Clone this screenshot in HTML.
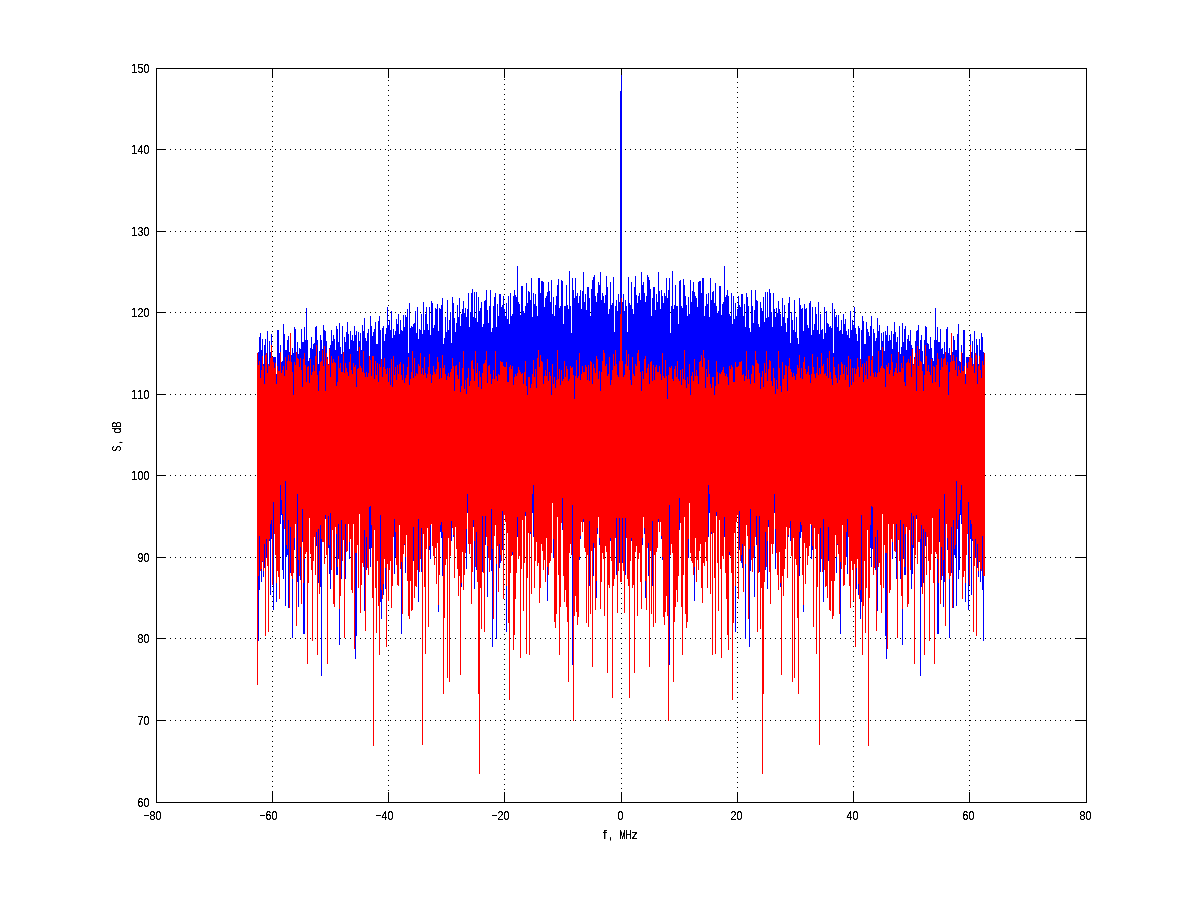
<!DOCTYPE html>
<html><head><meta charset="utf-8"><style>
html,body{margin:0;padding:0;background:#fff;width:1200px;height:901px;overflow:hidden}
svg{display:block}
text{font-family:"Liberation Sans",sans-serif;font-size:12.9px;fill:#000}
</style></head><body>
<svg width="1200" height="901" viewBox="0 0 1200 901" shape-rendering="crispEdges">
<defs><filter id="sh" x="0" y="0" width="1200" height="901" filterUnits="userSpaceOnUse"><feComponentTransfer><feFuncA type="linear" slope="3" intercept="-0.6"/></feComponentTransfer></filter></defs>
<rect width="1200" height="901" fill="#fff"/>
<path fill="#000" d="M272 71h1v1h-1zM272 76h1v1h-1zM272 81h1v1h-1zM272 86h1v1h-1zM272 91h1v1h-1zM272 96h1v1h-1zM272 101h1v1h-1zM272 106h1v1h-1zM272 111h1v1h-1zM272 116h1v1h-1zM272 121h1v1h-1zM272 126h1v1h-1zM272 131h1v1h-1zM272 136h1v1h-1zM272 141h1v1h-1zM272 146h1v1h-1zM272 151h1v1h-1zM272 156h1v1h-1zM272 161h1v1h-1zM272 166h1v1h-1zM272 171h1v1h-1zM272 176h1v1h-1zM272 181h1v1h-1zM272 186h1v1h-1zM272 191h1v1h-1zM272 196h1v1h-1zM272 201h1v1h-1zM272 206h1v1h-1zM272 211h1v1h-1zM272 216h1v1h-1zM272 221h1v1h-1zM272 226h1v1h-1zM272 231h1v1h-1zM272 236h1v1h-1zM272 241h1v1h-1zM272 246h1v1h-1zM272 251h1v1h-1zM272 256h1v1h-1zM272 261h1v1h-1zM272 266h1v1h-1zM272 271h1v1h-1zM272 276h1v1h-1zM272 281h1v1h-1zM272 286h1v1h-1zM272 291h1v1h-1zM272 296h1v1h-1zM272 301h1v1h-1zM272 306h1v1h-1zM272 311h1v1h-1zM272 316h1v1h-1zM272 321h1v1h-1zM272 326h1v1h-1zM272 331h1v1h-1zM272 336h1v1h-1zM272 341h1v1h-1zM272 346h1v1h-1zM272 351h1v1h-1zM272 356h1v1h-1zM272 361h1v1h-1zM272 366h1v1h-1zM272 371h1v1h-1zM272 376h1v1h-1zM272 381h1v1h-1zM272 386h1v1h-1zM272 391h1v1h-1zM272 396h1v1h-1zM272 401h1v1h-1zM272 406h1v1h-1zM272 411h1v1h-1zM272 416h1v1h-1zM272 421h1v1h-1zM272 426h1v1h-1zM272 431h1v1h-1zM272 436h1v1h-1zM272 441h1v1h-1zM272 446h1v1h-1zM272 451h1v1h-1zM272 456h1v1h-1zM272 461h1v1h-1zM272 466h1v1h-1zM272 471h1v1h-1zM272 476h1v1h-1zM272 481h1v1h-1zM272 486h1v1h-1zM272 491h1v1h-1zM272 496h1v1h-1zM272 501h1v1h-1zM272 506h1v1h-1zM272 511h1v1h-1zM272 516h1v1h-1zM272 521h1v1h-1zM272 526h1v1h-1zM272 531h1v1h-1zM272 536h1v1h-1zM272 541h1v1h-1zM272 546h1v1h-1zM272 551h1v1h-1zM272 556h1v1h-1zM272 561h1v1h-1zM272 566h1v1h-1zM272 571h1v1h-1zM272 576h1v1h-1zM272 581h1v1h-1zM272 586h1v1h-1zM272 591h1v1h-1zM272 596h1v1h-1zM272 601h1v1h-1zM272 606h1v1h-1zM272 611h1v1h-1zM272 616h1v1h-1zM272 621h1v1h-1zM272 626h1v1h-1zM272 631h1v1h-1zM272 636h1v1h-1zM272 641h1v1h-1zM272 646h1v1h-1zM272 651h1v1h-1zM272 656h1v1h-1zM272 661h1v1h-1zM272 666h1v1h-1zM272 671h1v1h-1zM272 676h1v1h-1zM272 681h1v1h-1zM272 686h1v1h-1zM272 691h1v1h-1zM272 696h1v1h-1zM272 701h1v1h-1zM272 706h1v1h-1zM272 711h1v1h-1zM272 716h1v1h-1zM272 721h1v1h-1zM272 726h1v1h-1zM272 731h1v1h-1zM272 736h1v1h-1zM272 741h1v1h-1zM272 746h1v1h-1zM272 751h1v1h-1zM272 756h1v1h-1zM272 761h1v1h-1zM272 766h1v1h-1zM272 771h1v1h-1zM272 776h1v1h-1zM272 781h1v1h-1zM272 786h1v1h-1zM272 791h1v1h-1zM272 796h1v1h-1zM272 801h1v1h-1zM388 70h1v1h-1zM388 75h1v1h-1zM388 80h1v1h-1zM388 85h1v1h-1zM388 90h1v1h-1zM388 95h1v1h-1zM388 100h1v1h-1zM388 105h1v1h-1zM388 110h1v1h-1zM388 115h1v1h-1zM388 120h1v1h-1zM388 125h1v1h-1zM388 130h1v1h-1zM388 135h1v1h-1zM388 140h1v1h-1zM388 145h1v1h-1zM388 150h1v1h-1zM388 155h1v1h-1zM388 160h1v1h-1zM388 165h1v1h-1zM388 170h1v1h-1zM388 175h1v1h-1zM388 180h1v1h-1zM388 185h1v1h-1zM388 190h1v1h-1zM388 195h1v1h-1zM388 200h1v1h-1zM388 205h1v1h-1zM388 210h1v1h-1zM388 215h1v1h-1zM388 220h1v1h-1zM388 225h1v1h-1zM388 230h1v1h-1zM388 235h1v1h-1zM388 240h1v1h-1zM388 245h1v1h-1zM388 250h1v1h-1zM388 255h1v1h-1zM388 260h1v1h-1zM388 265h1v1h-1zM388 270h1v1h-1zM388 275h1v1h-1zM388 280h1v1h-1zM388 285h1v1h-1zM388 290h1v1h-1zM388 295h1v1h-1zM388 300h1v1h-1zM388 305h1v1h-1zM388 310h1v1h-1zM388 315h1v1h-1zM388 320h1v1h-1zM388 325h1v1h-1zM388 330h1v1h-1zM388 335h1v1h-1zM388 340h1v1h-1zM388 345h1v1h-1zM388 350h1v1h-1zM388 355h1v1h-1zM388 360h1v1h-1zM388 365h1v1h-1zM388 370h1v1h-1zM388 375h1v1h-1zM388 380h1v1h-1zM388 385h1v1h-1zM388 390h1v1h-1zM388 395h1v1h-1zM388 400h1v1h-1zM388 405h1v1h-1zM388 410h1v1h-1zM388 415h1v1h-1zM388 420h1v1h-1zM388 425h1v1h-1zM388 430h1v1h-1zM388 435h1v1h-1zM388 440h1v1h-1zM388 445h1v1h-1zM388 450h1v1h-1zM388 455h1v1h-1zM388 460h1v1h-1zM388 465h1v1h-1zM388 470h1v1h-1zM388 475h1v1h-1zM388 480h1v1h-1zM388 485h1v1h-1zM388 490h1v1h-1zM388 495h1v1h-1zM388 500h1v1h-1zM388 505h1v1h-1zM388 510h1v1h-1zM388 515h1v1h-1zM388 520h1v1h-1zM388 525h1v1h-1zM388 530h1v1h-1zM388 535h1v1h-1zM388 540h1v1h-1zM388 545h1v1h-1zM388 550h1v1h-1zM388 555h1v1h-1zM388 560h1v1h-1zM388 565h1v1h-1zM388 570h1v1h-1zM388 575h1v1h-1zM388 580h1v1h-1zM388 585h1v1h-1zM388 590h1v1h-1zM388 595h1v1h-1zM388 600h1v1h-1zM388 605h1v1h-1zM388 610h1v1h-1zM388 615h1v1h-1zM388 620h1v1h-1zM388 625h1v1h-1zM388 630h1v1h-1zM388 635h1v1h-1zM388 640h1v1h-1zM388 645h1v1h-1zM388 650h1v1h-1zM388 655h1v1h-1zM388 660h1v1h-1zM388 665h1v1h-1zM388 670h1v1h-1zM388 675h1v1h-1zM388 680h1v1h-1zM388 685h1v1h-1zM388 690h1v1h-1zM388 695h1v1h-1zM388 700h1v1h-1zM388 705h1v1h-1zM388 710h1v1h-1zM388 715h1v1h-1zM388 720h1v1h-1zM388 725h1v1h-1zM388 730h1v1h-1zM388 735h1v1h-1zM388 740h1v1h-1zM388 745h1v1h-1zM388 750h1v1h-1zM388 755h1v1h-1zM388 760h1v1h-1zM388 765h1v1h-1zM388 770h1v1h-1zM388 775h1v1h-1zM388 780h1v1h-1zM388 785h1v1h-1zM388 790h1v1h-1zM388 795h1v1h-1zM388 800h1v1h-1zM504 69h1v1h-1zM504 74h1v1h-1zM504 79h1v1h-1zM504 84h1v1h-1zM504 89h1v1h-1zM504 94h1v1h-1zM504 99h1v1h-1zM504 104h1v1h-1zM504 109h1v1h-1zM504 114h1v1h-1zM504 119h1v1h-1zM504 124h1v1h-1zM504 129h1v1h-1zM504 134h1v1h-1zM504 139h1v1h-1zM504 144h1v1h-1zM504 149h1v1h-1zM504 154h1v1h-1zM504 159h1v1h-1zM504 164h1v1h-1zM504 169h1v1h-1zM504 174h1v1h-1zM504 179h1v1h-1zM504 184h1v1h-1zM504 189h1v1h-1zM504 194h1v1h-1zM504 199h1v1h-1zM504 204h1v1h-1zM504 209h1v1h-1zM504 214h1v1h-1zM504 219h1v1h-1zM504 224h1v1h-1zM504 229h1v1h-1zM504 234h1v1h-1zM504 239h1v1h-1zM504 244h1v1h-1zM504 249h1v1h-1zM504 254h1v1h-1zM504 259h1v1h-1zM504 264h1v1h-1zM504 269h1v1h-1zM504 274h1v1h-1zM504 279h1v1h-1zM504 284h1v1h-1zM504 289h1v1h-1zM504 294h1v1h-1zM504 299h1v1h-1zM504 304h1v1h-1zM504 309h1v1h-1zM504 314h1v1h-1zM504 319h1v1h-1zM504 324h1v1h-1zM504 329h1v1h-1zM504 334h1v1h-1zM504 339h1v1h-1zM504 344h1v1h-1zM504 349h1v1h-1zM504 354h1v1h-1zM504 359h1v1h-1zM504 364h1v1h-1zM504 369h1v1h-1zM504 374h1v1h-1zM504 379h1v1h-1zM504 384h1v1h-1zM504 389h1v1h-1zM504 394h1v1h-1zM504 399h1v1h-1zM504 404h1v1h-1zM504 409h1v1h-1zM504 414h1v1h-1zM504 419h1v1h-1zM504 424h1v1h-1zM504 429h1v1h-1zM504 434h1v1h-1zM504 439h1v1h-1zM504 444h1v1h-1zM504 449h1v1h-1zM504 454h1v1h-1zM504 459h1v1h-1zM504 464h1v1h-1zM504 469h1v1h-1zM504 474h1v1h-1zM504 479h1v1h-1zM504 484h1v1h-1zM504 489h1v1h-1zM504 494h1v1h-1zM504 499h1v1h-1zM504 504h1v1h-1zM504 509h1v1h-1zM504 514h1v1h-1zM504 519h1v1h-1zM504 524h1v1h-1zM504 529h1v1h-1zM504 534h1v1h-1zM504 539h1v1h-1zM504 544h1v1h-1zM504 549h1v1h-1zM504 554h1v1h-1zM504 559h1v1h-1zM504 564h1v1h-1zM504 569h1v1h-1zM504 574h1v1h-1zM504 579h1v1h-1zM504 584h1v1h-1zM504 589h1v1h-1zM504 594h1v1h-1zM504 599h1v1h-1zM504 604h1v1h-1zM504 609h1v1h-1zM504 614h1v1h-1zM504 619h1v1h-1zM504 624h1v1h-1zM504 629h1v1h-1zM504 634h1v1h-1zM504 639h1v1h-1zM504 644h1v1h-1zM504 649h1v1h-1zM504 654h1v1h-1zM504 659h1v1h-1zM504 664h1v1h-1zM504 669h1v1h-1zM504 674h1v1h-1zM504 679h1v1h-1zM504 684h1v1h-1zM504 689h1v1h-1zM504 694h1v1h-1zM504 699h1v1h-1zM504 704h1v1h-1zM504 709h1v1h-1zM504 714h1v1h-1zM504 719h1v1h-1zM504 724h1v1h-1zM504 729h1v1h-1zM504 734h1v1h-1zM504 739h1v1h-1zM504 744h1v1h-1zM504 749h1v1h-1zM504 754h1v1h-1zM504 759h1v1h-1zM504 764h1v1h-1zM504 769h1v1h-1zM504 774h1v1h-1zM504 779h1v1h-1zM504 784h1v1h-1zM504 789h1v1h-1zM504 794h1v1h-1zM504 799h1v1h-1zM621 73h1v1h-1zM621 78h1v1h-1zM621 83h1v1h-1zM621 88h1v1h-1zM621 93h1v1h-1zM621 98h1v1h-1zM621 103h1v1h-1zM621 108h1v1h-1zM621 113h1v1h-1zM621 118h1v1h-1zM621 123h1v1h-1zM621 128h1v1h-1zM621 133h1v1h-1zM621 138h1v1h-1zM621 143h1v1h-1zM621 148h1v1h-1zM621 153h1v1h-1zM621 158h1v1h-1zM621 163h1v1h-1zM621 168h1v1h-1zM621 173h1v1h-1zM621 178h1v1h-1zM621 183h1v1h-1zM621 188h1v1h-1zM621 193h1v1h-1zM621 198h1v1h-1zM621 203h1v1h-1zM621 208h1v1h-1zM621 213h1v1h-1zM621 218h1v1h-1zM621 223h1v1h-1zM621 228h1v1h-1zM621 233h1v1h-1zM621 238h1v1h-1zM621 243h1v1h-1zM621 248h1v1h-1zM621 253h1v1h-1zM621 258h1v1h-1zM621 263h1v1h-1zM621 268h1v1h-1zM621 273h1v1h-1zM621 278h1v1h-1zM621 283h1v1h-1zM621 288h1v1h-1zM621 293h1v1h-1zM621 298h1v1h-1zM621 303h1v1h-1zM621 308h1v1h-1zM621 313h1v1h-1zM621 318h1v1h-1zM621 323h1v1h-1zM621 328h1v1h-1zM621 333h1v1h-1zM621 338h1v1h-1zM621 343h1v1h-1zM621 348h1v1h-1zM621 353h1v1h-1zM621 358h1v1h-1zM621 363h1v1h-1zM621 368h1v1h-1zM621 373h1v1h-1zM621 378h1v1h-1zM621 383h1v1h-1zM621 388h1v1h-1zM621 393h1v1h-1zM621 398h1v1h-1zM621 403h1v1h-1zM621 408h1v1h-1zM621 413h1v1h-1zM621 418h1v1h-1zM621 423h1v1h-1zM621 428h1v1h-1zM621 433h1v1h-1zM621 438h1v1h-1zM621 443h1v1h-1zM621 448h1v1h-1zM621 453h1v1h-1zM621 458h1v1h-1zM621 463h1v1h-1zM621 468h1v1h-1zM621 473h1v1h-1zM621 478h1v1h-1zM621 483h1v1h-1zM621 488h1v1h-1zM621 493h1v1h-1zM621 498h1v1h-1zM621 503h1v1h-1zM621 508h1v1h-1zM621 513h1v1h-1zM621 518h1v1h-1zM621 523h1v1h-1zM621 528h1v1h-1zM621 533h1v1h-1zM621 538h1v1h-1zM621 543h1v1h-1zM621 548h1v1h-1zM621 553h1v1h-1zM621 558h1v1h-1zM621 563h1v1h-1zM621 568h1v1h-1zM621 573h1v1h-1zM621 578h1v1h-1zM621 583h1v1h-1zM621 588h1v1h-1zM621 593h1v1h-1zM621 598h1v1h-1zM621 603h1v1h-1zM621 608h1v1h-1zM621 613h1v1h-1zM621 618h1v1h-1zM621 623h1v1h-1zM621 628h1v1h-1zM621 633h1v1h-1zM621 638h1v1h-1zM621 643h1v1h-1zM621 648h1v1h-1zM621 653h1v1h-1zM621 658h1v1h-1zM621 663h1v1h-1zM621 668h1v1h-1zM621 673h1v1h-1zM621 678h1v1h-1zM621 683h1v1h-1zM621 688h1v1h-1zM621 693h1v1h-1zM621 698h1v1h-1zM621 703h1v1h-1zM621 708h1v1h-1zM621 713h1v1h-1zM621 718h1v1h-1zM621 723h1v1h-1zM621 728h1v1h-1zM621 733h1v1h-1zM621 738h1v1h-1zM621 743h1v1h-1zM621 748h1v1h-1zM621 753h1v1h-1zM621 758h1v1h-1zM621 763h1v1h-1zM621 768h1v1h-1zM621 773h1v1h-1zM621 778h1v1h-1zM621 783h1v1h-1zM621 788h1v1h-1zM621 793h1v1h-1zM621 798h1v1h-1zM737 72h1v1h-1zM737 77h1v1h-1zM737 82h1v1h-1zM737 87h1v1h-1zM737 92h1v1h-1zM737 97h1v1h-1zM737 102h1v1h-1zM737 107h1v1h-1zM737 112h1v1h-1zM737 117h1v1h-1zM737 122h1v1h-1zM737 127h1v1h-1zM737 132h1v1h-1zM737 137h1v1h-1zM737 142h1v1h-1zM737 147h1v1h-1zM737 152h1v1h-1zM737 157h1v1h-1zM737 162h1v1h-1zM737 167h1v1h-1zM737 172h1v1h-1zM737 177h1v1h-1zM737 182h1v1h-1zM737 187h1v1h-1zM737 192h1v1h-1zM737 197h1v1h-1zM737 202h1v1h-1zM737 207h1v1h-1zM737 212h1v1h-1zM737 217h1v1h-1zM737 222h1v1h-1zM737 227h1v1h-1zM737 232h1v1h-1zM737 237h1v1h-1zM737 242h1v1h-1zM737 247h1v1h-1zM737 252h1v1h-1zM737 257h1v1h-1zM737 262h1v1h-1zM737 267h1v1h-1zM737 272h1v1h-1zM737 277h1v1h-1zM737 282h1v1h-1zM737 287h1v1h-1zM737 292h1v1h-1zM737 297h1v1h-1zM737 302h1v1h-1zM737 307h1v1h-1zM737 312h1v1h-1zM737 317h1v1h-1zM737 322h1v1h-1zM737 327h1v1h-1zM737 332h1v1h-1zM737 337h1v1h-1zM737 342h1v1h-1zM737 347h1v1h-1zM737 352h1v1h-1zM737 357h1v1h-1zM737 362h1v1h-1zM737 367h1v1h-1zM737 372h1v1h-1zM737 377h1v1h-1zM737 382h1v1h-1zM737 387h1v1h-1zM737 392h1v1h-1zM737 397h1v1h-1zM737 402h1v1h-1zM737 407h1v1h-1zM737 412h1v1h-1zM737 417h1v1h-1zM737 422h1v1h-1zM737 427h1v1h-1zM737 432h1v1h-1zM737 437h1v1h-1zM737 442h1v1h-1zM737 447h1v1h-1zM737 452h1v1h-1zM737 457h1v1h-1zM737 462h1v1h-1zM737 467h1v1h-1zM737 472h1v1h-1zM737 477h1v1h-1zM737 482h1v1h-1zM737 487h1v1h-1zM737 492h1v1h-1zM737 497h1v1h-1zM737 502h1v1h-1zM737 507h1v1h-1zM737 512h1v1h-1zM737 517h1v1h-1zM737 522h1v1h-1zM737 527h1v1h-1zM737 532h1v1h-1zM737 537h1v1h-1zM737 542h1v1h-1zM737 547h1v1h-1zM737 552h1v1h-1zM737 557h1v1h-1zM737 562h1v1h-1zM737 567h1v1h-1zM737 572h1v1h-1zM737 577h1v1h-1zM737 582h1v1h-1zM737 587h1v1h-1zM737 592h1v1h-1zM737 597h1v1h-1zM737 602h1v1h-1zM737 607h1v1h-1zM737 612h1v1h-1zM737 617h1v1h-1zM737 622h1v1h-1zM737 627h1v1h-1zM737 632h1v1h-1zM737 637h1v1h-1zM737 642h1v1h-1zM737 647h1v1h-1zM737 652h1v1h-1zM737 657h1v1h-1zM737 662h1v1h-1zM737 667h1v1h-1zM737 672h1v1h-1zM737 677h1v1h-1zM737 682h1v1h-1zM737 687h1v1h-1zM737 692h1v1h-1zM737 697h1v1h-1zM737 702h1v1h-1zM737 707h1v1h-1zM737 712h1v1h-1zM737 717h1v1h-1zM737 722h1v1h-1zM737 727h1v1h-1zM737 732h1v1h-1zM737 737h1v1h-1zM737 742h1v1h-1zM737 747h1v1h-1zM737 752h1v1h-1zM737 757h1v1h-1zM737 762h1v1h-1zM737 767h1v1h-1zM737 772h1v1h-1zM737 777h1v1h-1zM737 782h1v1h-1zM737 787h1v1h-1zM737 792h1v1h-1zM737 797h1v1h-1zM853 71h1v1h-1zM853 76h1v1h-1zM853 81h1v1h-1zM853 86h1v1h-1zM853 91h1v1h-1zM853 96h1v1h-1zM853 101h1v1h-1zM853 106h1v1h-1zM853 111h1v1h-1zM853 116h1v1h-1zM853 121h1v1h-1zM853 126h1v1h-1zM853 131h1v1h-1zM853 136h1v1h-1zM853 141h1v1h-1zM853 146h1v1h-1zM853 151h1v1h-1zM853 156h1v1h-1zM853 161h1v1h-1zM853 166h1v1h-1zM853 171h1v1h-1zM853 176h1v1h-1zM853 181h1v1h-1zM853 186h1v1h-1zM853 191h1v1h-1zM853 196h1v1h-1zM853 201h1v1h-1zM853 206h1v1h-1zM853 211h1v1h-1zM853 216h1v1h-1zM853 221h1v1h-1zM853 226h1v1h-1zM853 231h1v1h-1zM853 236h1v1h-1zM853 241h1v1h-1zM853 246h1v1h-1zM853 251h1v1h-1zM853 256h1v1h-1zM853 261h1v1h-1zM853 266h1v1h-1zM853 271h1v1h-1zM853 276h1v1h-1zM853 281h1v1h-1zM853 286h1v1h-1zM853 291h1v1h-1zM853 296h1v1h-1zM853 301h1v1h-1zM853 306h1v1h-1zM853 311h1v1h-1zM853 316h1v1h-1zM853 321h1v1h-1zM853 326h1v1h-1zM853 331h1v1h-1zM853 336h1v1h-1zM853 341h1v1h-1zM853 346h1v1h-1zM853 351h1v1h-1zM853 356h1v1h-1zM853 361h1v1h-1zM853 366h1v1h-1zM853 371h1v1h-1zM853 376h1v1h-1zM853 381h1v1h-1zM853 386h1v1h-1zM853 391h1v1h-1zM853 396h1v1h-1zM853 401h1v1h-1zM853 406h1v1h-1zM853 411h1v1h-1zM853 416h1v1h-1zM853 421h1v1h-1zM853 426h1v1h-1zM853 431h1v1h-1zM853 436h1v1h-1zM853 441h1v1h-1zM853 446h1v1h-1zM853 451h1v1h-1zM853 456h1v1h-1zM853 461h1v1h-1zM853 466h1v1h-1zM853 471h1v1h-1zM853 476h1v1h-1zM853 481h1v1h-1zM853 486h1v1h-1zM853 491h1v1h-1zM853 496h1v1h-1zM853 501h1v1h-1zM853 506h1v1h-1zM853 511h1v1h-1zM853 516h1v1h-1zM853 521h1v1h-1zM853 526h1v1h-1zM853 531h1v1h-1zM853 536h1v1h-1zM853 541h1v1h-1zM853 546h1v1h-1zM853 551h1v1h-1zM853 556h1v1h-1zM853 561h1v1h-1zM853 566h1v1h-1zM853 571h1v1h-1zM853 576h1v1h-1zM853 581h1v1h-1zM853 586h1v1h-1zM853 591h1v1h-1zM853 596h1v1h-1zM853 601h1v1h-1zM853 606h1v1h-1zM853 611h1v1h-1zM853 616h1v1h-1zM853 621h1v1h-1zM853 626h1v1h-1zM853 631h1v1h-1zM853 636h1v1h-1zM853 641h1v1h-1zM853 646h1v1h-1zM853 651h1v1h-1zM853 656h1v1h-1zM853 661h1v1h-1zM853 666h1v1h-1zM853 671h1v1h-1zM853 676h1v1h-1zM853 681h1v1h-1zM853 686h1v1h-1zM853 691h1v1h-1zM853 696h1v1h-1zM853 701h1v1h-1zM853 706h1v1h-1zM853 711h1v1h-1zM853 716h1v1h-1zM853 721h1v1h-1zM853 726h1v1h-1zM853 731h1v1h-1zM853 736h1v1h-1zM853 741h1v1h-1zM853 746h1v1h-1zM853 751h1v1h-1zM853 756h1v1h-1zM853 761h1v1h-1zM853 766h1v1h-1zM853 771h1v1h-1zM853 776h1v1h-1zM853 781h1v1h-1zM853 786h1v1h-1zM853 791h1v1h-1zM853 796h1v1h-1zM853 801h1v1h-1zM969 70h1v1h-1zM969 75h1v1h-1zM969 80h1v1h-1zM969 85h1v1h-1zM969 90h1v1h-1zM969 95h1v1h-1zM969 100h1v1h-1zM969 105h1v1h-1zM969 110h1v1h-1zM969 115h1v1h-1zM969 120h1v1h-1zM969 125h1v1h-1zM969 130h1v1h-1zM969 135h1v1h-1zM969 140h1v1h-1zM969 145h1v1h-1zM969 150h1v1h-1zM969 155h1v1h-1zM969 160h1v1h-1zM969 165h1v1h-1zM969 170h1v1h-1zM969 175h1v1h-1zM969 180h1v1h-1zM969 185h1v1h-1zM969 190h1v1h-1zM969 195h1v1h-1zM969 200h1v1h-1zM969 205h1v1h-1zM969 210h1v1h-1zM969 215h1v1h-1zM969 220h1v1h-1zM969 225h1v1h-1zM969 230h1v1h-1zM969 235h1v1h-1zM969 240h1v1h-1zM969 245h1v1h-1zM969 250h1v1h-1zM969 255h1v1h-1zM969 260h1v1h-1zM969 265h1v1h-1zM969 270h1v1h-1zM969 275h1v1h-1zM969 280h1v1h-1zM969 285h1v1h-1zM969 290h1v1h-1zM969 295h1v1h-1zM969 300h1v1h-1zM969 305h1v1h-1zM969 310h1v1h-1zM969 315h1v1h-1zM969 320h1v1h-1zM969 325h1v1h-1zM969 330h1v1h-1zM969 335h1v1h-1zM969 340h1v1h-1zM969 345h1v1h-1zM969 350h1v1h-1zM969 355h1v1h-1zM969 360h1v1h-1zM969 365h1v1h-1zM969 370h1v1h-1zM969 375h1v1h-1zM969 380h1v1h-1zM969 385h1v1h-1zM969 390h1v1h-1zM969 395h1v1h-1zM969 400h1v1h-1zM969 405h1v1h-1zM969 410h1v1h-1zM969 415h1v1h-1zM969 420h1v1h-1zM969 425h1v1h-1zM969 430h1v1h-1zM969 435h1v1h-1zM969 440h1v1h-1zM969 445h1v1h-1zM969 450h1v1h-1zM969 455h1v1h-1zM969 460h1v1h-1zM969 465h1v1h-1zM969 470h1v1h-1zM969 475h1v1h-1zM969 480h1v1h-1zM969 485h1v1h-1zM969 490h1v1h-1zM969 495h1v1h-1zM969 500h1v1h-1zM969 505h1v1h-1zM969 510h1v1h-1zM969 515h1v1h-1zM969 520h1v1h-1zM969 525h1v1h-1zM969 530h1v1h-1zM969 535h1v1h-1zM969 540h1v1h-1zM969 545h1v1h-1zM969 550h1v1h-1zM969 555h1v1h-1zM969 560h1v1h-1zM969 565h1v1h-1zM969 570h1v1h-1zM969 575h1v1h-1zM969 580h1v1h-1zM969 585h1v1h-1zM969 590h1v1h-1zM969 595h1v1h-1zM969 600h1v1h-1zM969 605h1v1h-1zM969 610h1v1h-1zM969 615h1v1h-1zM969 620h1v1h-1zM969 625h1v1h-1zM969 630h1v1h-1zM969 635h1v1h-1zM969 640h1v1h-1zM969 645h1v1h-1zM969 650h1v1h-1zM969 655h1v1h-1zM969 660h1v1h-1zM969 665h1v1h-1zM969 670h1v1h-1zM969 675h1v1h-1zM969 680h1v1h-1zM969 685h1v1h-1zM969 690h1v1h-1zM969 695h1v1h-1zM969 700h1v1h-1zM969 705h1v1h-1zM969 710h1v1h-1zM969 715h1v1h-1zM969 720h1v1h-1zM969 725h1v1h-1zM969 730h1v1h-1zM969 735h1v1h-1zM969 740h1v1h-1zM969 745h1v1h-1zM969 750h1v1h-1zM969 755h1v1h-1zM969 760h1v1h-1zM969 765h1v1h-1zM969 770h1v1h-1zM969 775h1v1h-1zM969 780h1v1h-1zM969 785h1v1h-1zM969 790h1v1h-1zM969 795h1v1h-1zM969 800h1v1h-1zM160 720h1v1h-1zM165 720h1v1h-1zM170 720h1v1h-1zM175 720h1v1h-1zM180 720h1v1h-1zM185 720h1v1h-1zM190 720h1v1h-1zM195 720h1v1h-1zM200 720h1v1h-1zM205 720h1v1h-1zM210 720h1v1h-1zM215 720h1v1h-1zM220 720h1v1h-1zM225 720h1v1h-1zM230 720h1v1h-1zM235 720h1v1h-1zM240 720h1v1h-1zM245 720h1v1h-1zM250 720h1v1h-1zM255 720h1v1h-1zM260 720h1v1h-1zM265 720h1v1h-1zM270 720h1v1h-1zM275 720h1v1h-1zM280 720h1v1h-1zM285 720h1v1h-1zM290 720h1v1h-1zM295 720h1v1h-1zM300 720h1v1h-1zM305 720h1v1h-1zM310 720h1v1h-1zM315 720h1v1h-1zM320 720h1v1h-1zM325 720h1v1h-1zM330 720h1v1h-1zM335 720h1v1h-1zM340 720h1v1h-1zM345 720h1v1h-1zM350 720h1v1h-1zM355 720h1v1h-1zM360 720h1v1h-1zM365 720h1v1h-1zM370 720h1v1h-1zM375 720h1v1h-1zM380 720h1v1h-1zM385 720h1v1h-1zM390 720h1v1h-1zM395 720h1v1h-1zM400 720h1v1h-1zM405 720h1v1h-1zM410 720h1v1h-1zM415 720h1v1h-1zM420 720h1v1h-1zM425 720h1v1h-1zM430 720h1v1h-1zM435 720h1v1h-1zM440 720h1v1h-1zM445 720h1v1h-1zM450 720h1v1h-1zM455 720h1v1h-1zM460 720h1v1h-1zM465 720h1v1h-1zM470 720h1v1h-1zM475 720h1v1h-1zM480 720h1v1h-1zM485 720h1v1h-1zM490 720h1v1h-1zM495 720h1v1h-1zM500 720h1v1h-1zM505 720h1v1h-1zM510 720h1v1h-1zM515 720h1v1h-1zM520 720h1v1h-1zM525 720h1v1h-1zM530 720h1v1h-1zM535 720h1v1h-1zM540 720h1v1h-1zM545 720h1v1h-1zM550 720h1v1h-1zM555 720h1v1h-1zM560 720h1v1h-1zM565 720h1v1h-1zM570 720h1v1h-1zM575 720h1v1h-1zM580 720h1v1h-1zM585 720h1v1h-1zM590 720h1v1h-1zM595 720h1v1h-1zM600 720h1v1h-1zM605 720h1v1h-1zM610 720h1v1h-1zM615 720h1v1h-1zM620 720h1v1h-1zM625 720h1v1h-1zM630 720h1v1h-1zM635 720h1v1h-1zM640 720h1v1h-1zM645 720h1v1h-1zM650 720h1v1h-1zM655 720h1v1h-1zM660 720h1v1h-1zM665 720h1v1h-1zM670 720h1v1h-1zM675 720h1v1h-1zM680 720h1v1h-1zM685 720h1v1h-1zM690 720h1v1h-1zM695 720h1v1h-1zM700 720h1v1h-1zM705 720h1v1h-1zM710 720h1v1h-1zM715 720h1v1h-1zM720 720h1v1h-1zM725 720h1v1h-1zM730 720h1v1h-1zM735 720h1v1h-1zM740 720h1v1h-1zM745 720h1v1h-1zM750 720h1v1h-1zM755 720h1v1h-1zM760 720h1v1h-1zM765 720h1v1h-1zM770 720h1v1h-1zM775 720h1v1h-1zM780 720h1v1h-1zM785 720h1v1h-1zM790 720h1v1h-1zM795 720h1v1h-1zM800 720h1v1h-1zM805 720h1v1h-1zM810 720h1v1h-1zM815 720h1v1h-1zM820 720h1v1h-1zM825 720h1v1h-1zM830 720h1v1h-1zM835 720h1v1h-1zM840 720h1v1h-1zM845 720h1v1h-1zM850 720h1v1h-1zM855 720h1v1h-1zM860 720h1v1h-1zM865 720h1v1h-1zM870 720h1v1h-1zM875 720h1v1h-1zM880 720h1v1h-1zM885 720h1v1h-1zM890 720h1v1h-1zM895 720h1v1h-1zM900 720h1v1h-1zM905 720h1v1h-1zM910 720h1v1h-1zM915 720h1v1h-1zM920 720h1v1h-1zM925 720h1v1h-1zM930 720h1v1h-1zM935 720h1v1h-1zM940 720h1v1h-1zM945 720h1v1h-1zM950 720h1v1h-1zM955 720h1v1h-1zM960 720h1v1h-1zM965 720h1v1h-1zM970 720h1v1h-1zM975 720h1v1h-1zM980 720h1v1h-1zM985 720h1v1h-1zM990 720h1v1h-1zM995 720h1v1h-1zM1000 720h1v1h-1zM1005 720h1v1h-1zM1010 720h1v1h-1zM1015 720h1v1h-1zM1020 720h1v1h-1zM1025 720h1v1h-1zM1030 720h1v1h-1zM1035 720h1v1h-1zM1040 720h1v1h-1zM1045 720h1v1h-1zM1050 720h1v1h-1zM1055 720h1v1h-1zM1060 720h1v1h-1zM1065 720h1v1h-1zM1070 720h1v1h-1zM1075 720h1v1h-1zM1080 720h1v1h-1zM1085 720h1v1h-1zM160 638h1v1h-1zM165 638h1v1h-1zM170 638h1v1h-1zM175 638h1v1h-1zM180 638h1v1h-1zM185 638h1v1h-1zM190 638h1v1h-1zM195 638h1v1h-1zM200 638h1v1h-1zM205 638h1v1h-1zM210 638h1v1h-1zM215 638h1v1h-1zM220 638h1v1h-1zM225 638h1v1h-1zM230 638h1v1h-1zM235 638h1v1h-1zM240 638h1v1h-1zM245 638h1v1h-1zM250 638h1v1h-1zM255 638h1v1h-1zM260 638h1v1h-1zM265 638h1v1h-1zM270 638h1v1h-1zM275 638h1v1h-1zM280 638h1v1h-1zM285 638h1v1h-1zM290 638h1v1h-1zM295 638h1v1h-1zM300 638h1v1h-1zM305 638h1v1h-1zM310 638h1v1h-1zM315 638h1v1h-1zM320 638h1v1h-1zM325 638h1v1h-1zM330 638h1v1h-1zM335 638h1v1h-1zM340 638h1v1h-1zM345 638h1v1h-1zM350 638h1v1h-1zM355 638h1v1h-1zM360 638h1v1h-1zM365 638h1v1h-1zM370 638h1v1h-1zM375 638h1v1h-1zM380 638h1v1h-1zM385 638h1v1h-1zM390 638h1v1h-1zM395 638h1v1h-1zM400 638h1v1h-1zM405 638h1v1h-1zM410 638h1v1h-1zM415 638h1v1h-1zM420 638h1v1h-1zM425 638h1v1h-1zM430 638h1v1h-1zM435 638h1v1h-1zM440 638h1v1h-1zM445 638h1v1h-1zM450 638h1v1h-1zM455 638h1v1h-1zM460 638h1v1h-1zM465 638h1v1h-1zM470 638h1v1h-1zM475 638h1v1h-1zM480 638h1v1h-1zM485 638h1v1h-1zM490 638h1v1h-1zM495 638h1v1h-1zM500 638h1v1h-1zM505 638h1v1h-1zM510 638h1v1h-1zM515 638h1v1h-1zM520 638h1v1h-1zM525 638h1v1h-1zM530 638h1v1h-1zM535 638h1v1h-1zM540 638h1v1h-1zM545 638h1v1h-1zM550 638h1v1h-1zM555 638h1v1h-1zM560 638h1v1h-1zM565 638h1v1h-1zM570 638h1v1h-1zM575 638h1v1h-1zM580 638h1v1h-1zM585 638h1v1h-1zM590 638h1v1h-1zM595 638h1v1h-1zM600 638h1v1h-1zM605 638h1v1h-1zM610 638h1v1h-1zM615 638h1v1h-1zM620 638h1v1h-1zM625 638h1v1h-1zM630 638h1v1h-1zM635 638h1v1h-1zM640 638h1v1h-1zM645 638h1v1h-1zM650 638h1v1h-1zM655 638h1v1h-1zM660 638h1v1h-1zM665 638h1v1h-1zM670 638h1v1h-1zM675 638h1v1h-1zM680 638h1v1h-1zM685 638h1v1h-1zM690 638h1v1h-1zM695 638h1v1h-1zM700 638h1v1h-1zM705 638h1v1h-1zM710 638h1v1h-1zM715 638h1v1h-1zM720 638h1v1h-1zM725 638h1v1h-1zM730 638h1v1h-1zM735 638h1v1h-1zM740 638h1v1h-1zM745 638h1v1h-1zM750 638h1v1h-1zM755 638h1v1h-1zM760 638h1v1h-1zM765 638h1v1h-1zM770 638h1v1h-1zM775 638h1v1h-1zM780 638h1v1h-1zM785 638h1v1h-1zM790 638h1v1h-1zM795 638h1v1h-1zM800 638h1v1h-1zM805 638h1v1h-1zM810 638h1v1h-1zM815 638h1v1h-1zM820 638h1v1h-1zM825 638h1v1h-1zM830 638h1v1h-1zM835 638h1v1h-1zM840 638h1v1h-1zM845 638h1v1h-1zM850 638h1v1h-1zM855 638h1v1h-1zM860 638h1v1h-1zM865 638h1v1h-1zM870 638h1v1h-1zM875 638h1v1h-1zM880 638h1v1h-1zM885 638h1v1h-1zM890 638h1v1h-1zM895 638h1v1h-1zM900 638h1v1h-1zM905 638h1v1h-1zM910 638h1v1h-1zM915 638h1v1h-1zM920 638h1v1h-1zM925 638h1v1h-1zM930 638h1v1h-1zM935 638h1v1h-1zM940 638h1v1h-1zM945 638h1v1h-1zM950 638h1v1h-1zM955 638h1v1h-1zM960 638h1v1h-1zM965 638h1v1h-1zM970 638h1v1h-1zM975 638h1v1h-1zM980 638h1v1h-1zM985 638h1v1h-1zM990 638h1v1h-1zM995 638h1v1h-1zM1000 638h1v1h-1zM1005 638h1v1h-1zM1010 638h1v1h-1zM1015 638h1v1h-1zM1020 638h1v1h-1zM1025 638h1v1h-1zM1030 638h1v1h-1zM1035 638h1v1h-1zM1040 638h1v1h-1zM1045 638h1v1h-1zM1050 638h1v1h-1zM1055 638h1v1h-1zM1060 638h1v1h-1zM1065 638h1v1h-1zM1070 638h1v1h-1zM1075 638h1v1h-1zM1080 638h1v1h-1zM1085 638h1v1h-1zM160 557h1v1h-1zM165 557h1v1h-1zM170 557h1v1h-1zM175 557h1v1h-1zM180 557h1v1h-1zM185 557h1v1h-1zM190 557h1v1h-1zM195 557h1v1h-1zM200 557h1v1h-1zM205 557h1v1h-1zM210 557h1v1h-1zM215 557h1v1h-1zM220 557h1v1h-1zM225 557h1v1h-1zM230 557h1v1h-1zM235 557h1v1h-1zM240 557h1v1h-1zM245 557h1v1h-1zM250 557h1v1h-1zM255 557h1v1h-1zM260 557h1v1h-1zM265 557h1v1h-1zM270 557h1v1h-1zM275 557h1v1h-1zM280 557h1v1h-1zM285 557h1v1h-1zM290 557h1v1h-1zM295 557h1v1h-1zM300 557h1v1h-1zM305 557h1v1h-1zM310 557h1v1h-1zM315 557h1v1h-1zM320 557h1v1h-1zM325 557h1v1h-1zM330 557h1v1h-1zM335 557h1v1h-1zM340 557h1v1h-1zM345 557h1v1h-1zM350 557h1v1h-1zM355 557h1v1h-1zM360 557h1v1h-1zM365 557h1v1h-1zM370 557h1v1h-1zM375 557h1v1h-1zM380 557h1v1h-1zM385 557h1v1h-1zM390 557h1v1h-1zM395 557h1v1h-1zM400 557h1v1h-1zM405 557h1v1h-1zM410 557h1v1h-1zM415 557h1v1h-1zM420 557h1v1h-1zM425 557h1v1h-1zM430 557h1v1h-1zM435 557h1v1h-1zM440 557h1v1h-1zM445 557h1v1h-1zM450 557h1v1h-1zM455 557h1v1h-1zM460 557h1v1h-1zM465 557h1v1h-1zM470 557h1v1h-1zM475 557h1v1h-1zM480 557h1v1h-1zM485 557h1v1h-1zM490 557h1v1h-1zM495 557h1v1h-1zM500 557h1v1h-1zM505 557h1v1h-1zM510 557h1v1h-1zM515 557h1v1h-1zM520 557h1v1h-1zM525 557h1v1h-1zM530 557h1v1h-1zM535 557h1v1h-1zM540 557h1v1h-1zM545 557h1v1h-1zM550 557h1v1h-1zM555 557h1v1h-1zM560 557h1v1h-1zM565 557h1v1h-1zM570 557h1v1h-1zM575 557h1v1h-1zM580 557h1v1h-1zM585 557h1v1h-1zM590 557h1v1h-1zM595 557h1v1h-1zM600 557h1v1h-1zM605 557h1v1h-1zM610 557h1v1h-1zM615 557h1v1h-1zM620 557h1v1h-1zM625 557h1v1h-1zM630 557h1v1h-1zM635 557h1v1h-1zM640 557h1v1h-1zM645 557h1v1h-1zM650 557h1v1h-1zM655 557h1v1h-1zM660 557h1v1h-1zM665 557h1v1h-1zM670 557h1v1h-1zM675 557h1v1h-1zM680 557h1v1h-1zM685 557h1v1h-1zM690 557h1v1h-1zM695 557h1v1h-1zM700 557h1v1h-1zM705 557h1v1h-1zM710 557h1v1h-1zM715 557h1v1h-1zM720 557h1v1h-1zM725 557h1v1h-1zM730 557h1v1h-1zM735 557h1v1h-1zM740 557h1v1h-1zM745 557h1v1h-1zM750 557h1v1h-1zM755 557h1v1h-1zM760 557h1v1h-1zM765 557h1v1h-1zM770 557h1v1h-1zM775 557h1v1h-1zM780 557h1v1h-1zM785 557h1v1h-1zM790 557h1v1h-1zM795 557h1v1h-1zM800 557h1v1h-1zM805 557h1v1h-1zM810 557h1v1h-1zM815 557h1v1h-1zM820 557h1v1h-1zM825 557h1v1h-1zM830 557h1v1h-1zM835 557h1v1h-1zM840 557h1v1h-1zM845 557h1v1h-1zM850 557h1v1h-1zM855 557h1v1h-1zM860 557h1v1h-1zM865 557h1v1h-1zM870 557h1v1h-1zM875 557h1v1h-1zM880 557h1v1h-1zM885 557h1v1h-1zM890 557h1v1h-1zM895 557h1v1h-1zM900 557h1v1h-1zM905 557h1v1h-1zM910 557h1v1h-1zM915 557h1v1h-1zM920 557h1v1h-1zM925 557h1v1h-1zM930 557h1v1h-1zM935 557h1v1h-1zM940 557h1v1h-1zM945 557h1v1h-1zM950 557h1v1h-1zM955 557h1v1h-1zM960 557h1v1h-1zM965 557h1v1h-1zM970 557h1v1h-1zM975 557h1v1h-1zM980 557h1v1h-1zM985 557h1v1h-1zM990 557h1v1h-1zM995 557h1v1h-1zM1000 557h1v1h-1zM1005 557h1v1h-1zM1010 557h1v1h-1zM1015 557h1v1h-1zM1020 557h1v1h-1zM1025 557h1v1h-1zM1030 557h1v1h-1zM1035 557h1v1h-1zM1040 557h1v1h-1zM1045 557h1v1h-1zM1050 557h1v1h-1zM1055 557h1v1h-1zM1060 557h1v1h-1zM1065 557h1v1h-1zM1070 557h1v1h-1zM1075 557h1v1h-1zM1080 557h1v1h-1zM1085 557h1v1h-1zM160 475h1v1h-1zM165 475h1v1h-1zM170 475h1v1h-1zM175 475h1v1h-1zM180 475h1v1h-1zM185 475h1v1h-1zM190 475h1v1h-1zM195 475h1v1h-1zM200 475h1v1h-1zM205 475h1v1h-1zM210 475h1v1h-1zM215 475h1v1h-1zM220 475h1v1h-1zM225 475h1v1h-1zM230 475h1v1h-1zM235 475h1v1h-1zM240 475h1v1h-1zM245 475h1v1h-1zM250 475h1v1h-1zM255 475h1v1h-1zM260 475h1v1h-1zM265 475h1v1h-1zM270 475h1v1h-1zM275 475h1v1h-1zM280 475h1v1h-1zM285 475h1v1h-1zM290 475h1v1h-1zM295 475h1v1h-1zM300 475h1v1h-1zM305 475h1v1h-1zM310 475h1v1h-1zM315 475h1v1h-1zM320 475h1v1h-1zM325 475h1v1h-1zM330 475h1v1h-1zM335 475h1v1h-1zM340 475h1v1h-1zM345 475h1v1h-1zM350 475h1v1h-1zM355 475h1v1h-1zM360 475h1v1h-1zM365 475h1v1h-1zM370 475h1v1h-1zM375 475h1v1h-1zM380 475h1v1h-1zM385 475h1v1h-1zM390 475h1v1h-1zM395 475h1v1h-1zM400 475h1v1h-1zM405 475h1v1h-1zM410 475h1v1h-1zM415 475h1v1h-1zM420 475h1v1h-1zM425 475h1v1h-1zM430 475h1v1h-1zM435 475h1v1h-1zM440 475h1v1h-1zM445 475h1v1h-1zM450 475h1v1h-1zM455 475h1v1h-1zM460 475h1v1h-1zM465 475h1v1h-1zM470 475h1v1h-1zM475 475h1v1h-1zM480 475h1v1h-1zM485 475h1v1h-1zM490 475h1v1h-1zM495 475h1v1h-1zM500 475h1v1h-1zM505 475h1v1h-1zM510 475h1v1h-1zM515 475h1v1h-1zM520 475h1v1h-1zM525 475h1v1h-1zM530 475h1v1h-1zM535 475h1v1h-1zM540 475h1v1h-1zM545 475h1v1h-1zM550 475h1v1h-1zM555 475h1v1h-1zM560 475h1v1h-1zM565 475h1v1h-1zM570 475h1v1h-1zM575 475h1v1h-1zM580 475h1v1h-1zM585 475h1v1h-1zM590 475h1v1h-1zM595 475h1v1h-1zM600 475h1v1h-1zM605 475h1v1h-1zM610 475h1v1h-1zM615 475h1v1h-1zM620 475h1v1h-1zM625 475h1v1h-1zM630 475h1v1h-1zM635 475h1v1h-1zM640 475h1v1h-1zM645 475h1v1h-1zM650 475h1v1h-1zM655 475h1v1h-1zM660 475h1v1h-1zM665 475h1v1h-1zM670 475h1v1h-1zM675 475h1v1h-1zM680 475h1v1h-1zM685 475h1v1h-1zM690 475h1v1h-1zM695 475h1v1h-1zM700 475h1v1h-1zM705 475h1v1h-1zM710 475h1v1h-1zM715 475h1v1h-1zM720 475h1v1h-1zM725 475h1v1h-1zM730 475h1v1h-1zM735 475h1v1h-1zM740 475h1v1h-1zM745 475h1v1h-1zM750 475h1v1h-1zM755 475h1v1h-1zM760 475h1v1h-1zM765 475h1v1h-1zM770 475h1v1h-1zM775 475h1v1h-1zM780 475h1v1h-1zM785 475h1v1h-1zM790 475h1v1h-1zM795 475h1v1h-1zM800 475h1v1h-1zM805 475h1v1h-1zM810 475h1v1h-1zM815 475h1v1h-1zM820 475h1v1h-1zM825 475h1v1h-1zM830 475h1v1h-1zM835 475h1v1h-1zM840 475h1v1h-1zM845 475h1v1h-1zM850 475h1v1h-1zM855 475h1v1h-1zM860 475h1v1h-1zM865 475h1v1h-1zM870 475h1v1h-1zM875 475h1v1h-1zM880 475h1v1h-1zM885 475h1v1h-1zM890 475h1v1h-1zM895 475h1v1h-1zM900 475h1v1h-1zM905 475h1v1h-1zM910 475h1v1h-1zM915 475h1v1h-1zM920 475h1v1h-1zM925 475h1v1h-1zM930 475h1v1h-1zM935 475h1v1h-1zM940 475h1v1h-1zM945 475h1v1h-1zM950 475h1v1h-1zM955 475h1v1h-1zM960 475h1v1h-1zM965 475h1v1h-1zM970 475h1v1h-1zM975 475h1v1h-1zM980 475h1v1h-1zM985 475h1v1h-1zM990 475h1v1h-1zM995 475h1v1h-1zM1000 475h1v1h-1zM1005 475h1v1h-1zM1010 475h1v1h-1zM1015 475h1v1h-1zM1020 475h1v1h-1zM1025 475h1v1h-1zM1030 475h1v1h-1zM1035 475h1v1h-1zM1040 475h1v1h-1zM1045 475h1v1h-1zM1050 475h1v1h-1zM1055 475h1v1h-1zM1060 475h1v1h-1zM1065 475h1v1h-1zM1070 475h1v1h-1zM1075 475h1v1h-1zM1080 475h1v1h-1zM1085 475h1v1h-1zM160 394h1v1h-1zM165 394h1v1h-1zM170 394h1v1h-1zM175 394h1v1h-1zM180 394h1v1h-1zM185 394h1v1h-1zM190 394h1v1h-1zM195 394h1v1h-1zM200 394h1v1h-1zM205 394h1v1h-1zM210 394h1v1h-1zM215 394h1v1h-1zM220 394h1v1h-1zM225 394h1v1h-1zM230 394h1v1h-1zM235 394h1v1h-1zM240 394h1v1h-1zM245 394h1v1h-1zM250 394h1v1h-1zM255 394h1v1h-1zM260 394h1v1h-1zM265 394h1v1h-1zM270 394h1v1h-1zM275 394h1v1h-1zM280 394h1v1h-1zM285 394h1v1h-1zM290 394h1v1h-1zM295 394h1v1h-1zM300 394h1v1h-1zM305 394h1v1h-1zM310 394h1v1h-1zM315 394h1v1h-1zM320 394h1v1h-1zM325 394h1v1h-1zM330 394h1v1h-1zM335 394h1v1h-1zM340 394h1v1h-1zM345 394h1v1h-1zM350 394h1v1h-1zM355 394h1v1h-1zM360 394h1v1h-1zM365 394h1v1h-1zM370 394h1v1h-1zM375 394h1v1h-1zM380 394h1v1h-1zM385 394h1v1h-1zM390 394h1v1h-1zM395 394h1v1h-1zM400 394h1v1h-1zM405 394h1v1h-1zM410 394h1v1h-1zM415 394h1v1h-1zM420 394h1v1h-1zM425 394h1v1h-1zM430 394h1v1h-1zM435 394h1v1h-1zM440 394h1v1h-1zM445 394h1v1h-1zM450 394h1v1h-1zM455 394h1v1h-1zM460 394h1v1h-1zM465 394h1v1h-1zM470 394h1v1h-1zM475 394h1v1h-1zM480 394h1v1h-1zM485 394h1v1h-1zM490 394h1v1h-1zM495 394h1v1h-1zM500 394h1v1h-1zM505 394h1v1h-1zM510 394h1v1h-1zM515 394h1v1h-1zM520 394h1v1h-1zM525 394h1v1h-1zM530 394h1v1h-1zM535 394h1v1h-1zM540 394h1v1h-1zM545 394h1v1h-1zM550 394h1v1h-1zM555 394h1v1h-1zM560 394h1v1h-1zM565 394h1v1h-1zM570 394h1v1h-1zM575 394h1v1h-1zM580 394h1v1h-1zM585 394h1v1h-1zM590 394h1v1h-1zM595 394h1v1h-1zM600 394h1v1h-1zM605 394h1v1h-1zM610 394h1v1h-1zM615 394h1v1h-1zM620 394h1v1h-1zM625 394h1v1h-1zM630 394h1v1h-1zM635 394h1v1h-1zM640 394h1v1h-1zM645 394h1v1h-1zM650 394h1v1h-1zM655 394h1v1h-1zM660 394h1v1h-1zM665 394h1v1h-1zM670 394h1v1h-1zM675 394h1v1h-1zM680 394h1v1h-1zM685 394h1v1h-1zM690 394h1v1h-1zM695 394h1v1h-1zM700 394h1v1h-1zM705 394h1v1h-1zM710 394h1v1h-1zM715 394h1v1h-1zM720 394h1v1h-1zM725 394h1v1h-1zM730 394h1v1h-1zM735 394h1v1h-1zM740 394h1v1h-1zM745 394h1v1h-1zM750 394h1v1h-1zM755 394h1v1h-1zM760 394h1v1h-1zM765 394h1v1h-1zM770 394h1v1h-1zM775 394h1v1h-1zM780 394h1v1h-1zM785 394h1v1h-1zM790 394h1v1h-1zM795 394h1v1h-1zM800 394h1v1h-1zM805 394h1v1h-1zM810 394h1v1h-1zM815 394h1v1h-1zM820 394h1v1h-1zM825 394h1v1h-1zM830 394h1v1h-1zM835 394h1v1h-1zM840 394h1v1h-1zM845 394h1v1h-1zM850 394h1v1h-1zM855 394h1v1h-1zM860 394h1v1h-1zM865 394h1v1h-1zM870 394h1v1h-1zM875 394h1v1h-1zM880 394h1v1h-1zM885 394h1v1h-1zM890 394h1v1h-1zM895 394h1v1h-1zM900 394h1v1h-1zM905 394h1v1h-1zM910 394h1v1h-1zM915 394h1v1h-1zM920 394h1v1h-1zM925 394h1v1h-1zM930 394h1v1h-1zM935 394h1v1h-1zM940 394h1v1h-1zM945 394h1v1h-1zM950 394h1v1h-1zM955 394h1v1h-1zM960 394h1v1h-1zM965 394h1v1h-1zM970 394h1v1h-1zM975 394h1v1h-1zM980 394h1v1h-1zM985 394h1v1h-1zM990 394h1v1h-1zM995 394h1v1h-1zM1000 394h1v1h-1zM1005 394h1v1h-1zM1010 394h1v1h-1zM1015 394h1v1h-1zM1020 394h1v1h-1zM1025 394h1v1h-1zM1030 394h1v1h-1zM1035 394h1v1h-1zM1040 394h1v1h-1zM1045 394h1v1h-1zM1050 394h1v1h-1zM1055 394h1v1h-1zM1060 394h1v1h-1zM1065 394h1v1h-1zM1070 394h1v1h-1zM1075 394h1v1h-1zM1080 394h1v1h-1zM1085 394h1v1h-1zM160 312h1v1h-1zM165 312h1v1h-1zM170 312h1v1h-1zM175 312h1v1h-1zM180 312h1v1h-1zM185 312h1v1h-1zM190 312h1v1h-1zM195 312h1v1h-1zM200 312h1v1h-1zM205 312h1v1h-1zM210 312h1v1h-1zM215 312h1v1h-1zM220 312h1v1h-1zM225 312h1v1h-1zM230 312h1v1h-1zM235 312h1v1h-1zM240 312h1v1h-1zM245 312h1v1h-1zM250 312h1v1h-1zM255 312h1v1h-1zM260 312h1v1h-1zM265 312h1v1h-1zM270 312h1v1h-1zM275 312h1v1h-1zM280 312h1v1h-1zM285 312h1v1h-1zM290 312h1v1h-1zM295 312h1v1h-1zM300 312h1v1h-1zM305 312h1v1h-1zM310 312h1v1h-1zM315 312h1v1h-1zM320 312h1v1h-1zM325 312h1v1h-1zM330 312h1v1h-1zM335 312h1v1h-1zM340 312h1v1h-1zM345 312h1v1h-1zM350 312h1v1h-1zM355 312h1v1h-1zM360 312h1v1h-1zM365 312h1v1h-1zM370 312h1v1h-1zM375 312h1v1h-1zM380 312h1v1h-1zM385 312h1v1h-1zM390 312h1v1h-1zM395 312h1v1h-1zM400 312h1v1h-1zM405 312h1v1h-1zM410 312h1v1h-1zM415 312h1v1h-1zM420 312h1v1h-1zM425 312h1v1h-1zM430 312h1v1h-1zM435 312h1v1h-1zM440 312h1v1h-1zM445 312h1v1h-1zM450 312h1v1h-1zM455 312h1v1h-1zM460 312h1v1h-1zM465 312h1v1h-1zM470 312h1v1h-1zM475 312h1v1h-1zM480 312h1v1h-1zM485 312h1v1h-1zM490 312h1v1h-1zM495 312h1v1h-1zM500 312h1v1h-1zM505 312h1v1h-1zM510 312h1v1h-1zM515 312h1v1h-1zM520 312h1v1h-1zM525 312h1v1h-1zM530 312h1v1h-1zM535 312h1v1h-1zM540 312h1v1h-1zM545 312h1v1h-1zM550 312h1v1h-1zM555 312h1v1h-1zM560 312h1v1h-1zM565 312h1v1h-1zM570 312h1v1h-1zM575 312h1v1h-1zM580 312h1v1h-1zM585 312h1v1h-1zM590 312h1v1h-1zM595 312h1v1h-1zM600 312h1v1h-1zM605 312h1v1h-1zM610 312h1v1h-1zM615 312h1v1h-1zM620 312h1v1h-1zM625 312h1v1h-1zM630 312h1v1h-1zM635 312h1v1h-1zM640 312h1v1h-1zM645 312h1v1h-1zM650 312h1v1h-1zM655 312h1v1h-1zM660 312h1v1h-1zM665 312h1v1h-1zM670 312h1v1h-1zM675 312h1v1h-1zM680 312h1v1h-1zM685 312h1v1h-1zM690 312h1v1h-1zM695 312h1v1h-1zM700 312h1v1h-1zM705 312h1v1h-1zM710 312h1v1h-1zM715 312h1v1h-1zM720 312h1v1h-1zM725 312h1v1h-1zM730 312h1v1h-1zM735 312h1v1h-1zM740 312h1v1h-1zM745 312h1v1h-1zM750 312h1v1h-1zM755 312h1v1h-1zM760 312h1v1h-1zM765 312h1v1h-1zM770 312h1v1h-1zM775 312h1v1h-1zM780 312h1v1h-1zM785 312h1v1h-1zM790 312h1v1h-1zM795 312h1v1h-1zM800 312h1v1h-1zM805 312h1v1h-1zM810 312h1v1h-1zM815 312h1v1h-1zM820 312h1v1h-1zM825 312h1v1h-1zM830 312h1v1h-1zM835 312h1v1h-1zM840 312h1v1h-1zM845 312h1v1h-1zM850 312h1v1h-1zM855 312h1v1h-1zM860 312h1v1h-1zM865 312h1v1h-1zM870 312h1v1h-1zM875 312h1v1h-1zM880 312h1v1h-1zM885 312h1v1h-1zM890 312h1v1h-1zM895 312h1v1h-1zM900 312h1v1h-1zM905 312h1v1h-1zM910 312h1v1h-1zM915 312h1v1h-1zM920 312h1v1h-1zM925 312h1v1h-1zM930 312h1v1h-1zM935 312h1v1h-1zM940 312h1v1h-1zM945 312h1v1h-1zM950 312h1v1h-1zM955 312h1v1h-1zM960 312h1v1h-1zM965 312h1v1h-1zM970 312h1v1h-1zM975 312h1v1h-1zM980 312h1v1h-1zM985 312h1v1h-1zM990 312h1v1h-1zM995 312h1v1h-1zM1000 312h1v1h-1zM1005 312h1v1h-1zM1010 312h1v1h-1zM1015 312h1v1h-1zM1020 312h1v1h-1zM1025 312h1v1h-1zM1030 312h1v1h-1zM1035 312h1v1h-1zM1040 312h1v1h-1zM1045 312h1v1h-1zM1050 312h1v1h-1zM1055 312h1v1h-1zM1060 312h1v1h-1zM1065 312h1v1h-1zM1070 312h1v1h-1zM1075 312h1v1h-1zM1080 312h1v1h-1zM1085 312h1v1h-1zM160 231h1v1h-1zM165 231h1v1h-1zM170 231h1v1h-1zM175 231h1v1h-1zM180 231h1v1h-1zM185 231h1v1h-1zM190 231h1v1h-1zM195 231h1v1h-1zM200 231h1v1h-1zM205 231h1v1h-1zM210 231h1v1h-1zM215 231h1v1h-1zM220 231h1v1h-1zM225 231h1v1h-1zM230 231h1v1h-1zM235 231h1v1h-1zM240 231h1v1h-1zM245 231h1v1h-1zM250 231h1v1h-1zM255 231h1v1h-1zM260 231h1v1h-1zM265 231h1v1h-1zM270 231h1v1h-1zM275 231h1v1h-1zM280 231h1v1h-1zM285 231h1v1h-1zM290 231h1v1h-1zM295 231h1v1h-1zM300 231h1v1h-1zM305 231h1v1h-1zM310 231h1v1h-1zM315 231h1v1h-1zM320 231h1v1h-1zM325 231h1v1h-1zM330 231h1v1h-1zM335 231h1v1h-1zM340 231h1v1h-1zM345 231h1v1h-1zM350 231h1v1h-1zM355 231h1v1h-1zM360 231h1v1h-1zM365 231h1v1h-1zM370 231h1v1h-1zM375 231h1v1h-1zM380 231h1v1h-1zM385 231h1v1h-1zM390 231h1v1h-1zM395 231h1v1h-1zM400 231h1v1h-1zM405 231h1v1h-1zM410 231h1v1h-1zM415 231h1v1h-1zM420 231h1v1h-1zM425 231h1v1h-1zM430 231h1v1h-1zM435 231h1v1h-1zM440 231h1v1h-1zM445 231h1v1h-1zM450 231h1v1h-1zM455 231h1v1h-1zM460 231h1v1h-1zM465 231h1v1h-1zM470 231h1v1h-1zM475 231h1v1h-1zM480 231h1v1h-1zM485 231h1v1h-1zM490 231h1v1h-1zM495 231h1v1h-1zM500 231h1v1h-1zM505 231h1v1h-1zM510 231h1v1h-1zM515 231h1v1h-1zM520 231h1v1h-1zM525 231h1v1h-1zM530 231h1v1h-1zM535 231h1v1h-1zM540 231h1v1h-1zM545 231h1v1h-1zM550 231h1v1h-1zM555 231h1v1h-1zM560 231h1v1h-1zM565 231h1v1h-1zM570 231h1v1h-1zM575 231h1v1h-1zM580 231h1v1h-1zM585 231h1v1h-1zM590 231h1v1h-1zM595 231h1v1h-1zM600 231h1v1h-1zM605 231h1v1h-1zM610 231h1v1h-1zM615 231h1v1h-1zM620 231h1v1h-1zM625 231h1v1h-1zM630 231h1v1h-1zM635 231h1v1h-1zM640 231h1v1h-1zM645 231h1v1h-1zM650 231h1v1h-1zM655 231h1v1h-1zM660 231h1v1h-1zM665 231h1v1h-1zM670 231h1v1h-1zM675 231h1v1h-1zM680 231h1v1h-1zM685 231h1v1h-1zM690 231h1v1h-1zM695 231h1v1h-1zM700 231h1v1h-1zM705 231h1v1h-1zM710 231h1v1h-1zM715 231h1v1h-1zM720 231h1v1h-1zM725 231h1v1h-1zM730 231h1v1h-1zM735 231h1v1h-1zM740 231h1v1h-1zM745 231h1v1h-1zM750 231h1v1h-1zM755 231h1v1h-1zM760 231h1v1h-1zM765 231h1v1h-1zM770 231h1v1h-1zM775 231h1v1h-1zM780 231h1v1h-1zM785 231h1v1h-1zM790 231h1v1h-1zM795 231h1v1h-1zM800 231h1v1h-1zM805 231h1v1h-1zM810 231h1v1h-1zM815 231h1v1h-1zM820 231h1v1h-1zM825 231h1v1h-1zM830 231h1v1h-1zM835 231h1v1h-1zM840 231h1v1h-1zM845 231h1v1h-1zM850 231h1v1h-1zM855 231h1v1h-1zM860 231h1v1h-1zM865 231h1v1h-1zM870 231h1v1h-1zM875 231h1v1h-1zM880 231h1v1h-1zM885 231h1v1h-1zM890 231h1v1h-1zM895 231h1v1h-1zM900 231h1v1h-1zM905 231h1v1h-1zM910 231h1v1h-1zM915 231h1v1h-1zM920 231h1v1h-1zM925 231h1v1h-1zM930 231h1v1h-1zM935 231h1v1h-1zM940 231h1v1h-1zM945 231h1v1h-1zM950 231h1v1h-1zM955 231h1v1h-1zM960 231h1v1h-1zM965 231h1v1h-1zM970 231h1v1h-1zM975 231h1v1h-1zM980 231h1v1h-1zM985 231h1v1h-1zM990 231h1v1h-1zM995 231h1v1h-1zM1000 231h1v1h-1zM1005 231h1v1h-1zM1010 231h1v1h-1zM1015 231h1v1h-1zM1020 231h1v1h-1zM1025 231h1v1h-1zM1030 231h1v1h-1zM1035 231h1v1h-1zM1040 231h1v1h-1zM1045 231h1v1h-1zM1050 231h1v1h-1zM1055 231h1v1h-1zM1060 231h1v1h-1zM1065 231h1v1h-1zM1070 231h1v1h-1zM1075 231h1v1h-1zM1080 231h1v1h-1zM1085 231h1v1h-1zM160 149h1v1h-1zM165 149h1v1h-1zM170 149h1v1h-1zM175 149h1v1h-1zM180 149h1v1h-1zM185 149h1v1h-1zM190 149h1v1h-1zM195 149h1v1h-1zM200 149h1v1h-1zM205 149h1v1h-1zM210 149h1v1h-1zM215 149h1v1h-1zM220 149h1v1h-1zM225 149h1v1h-1zM230 149h1v1h-1zM235 149h1v1h-1zM240 149h1v1h-1zM245 149h1v1h-1zM250 149h1v1h-1zM255 149h1v1h-1zM260 149h1v1h-1zM265 149h1v1h-1zM270 149h1v1h-1zM275 149h1v1h-1zM280 149h1v1h-1zM285 149h1v1h-1zM290 149h1v1h-1zM295 149h1v1h-1zM300 149h1v1h-1zM305 149h1v1h-1zM310 149h1v1h-1zM315 149h1v1h-1zM320 149h1v1h-1zM325 149h1v1h-1zM330 149h1v1h-1zM335 149h1v1h-1zM340 149h1v1h-1zM345 149h1v1h-1zM350 149h1v1h-1zM355 149h1v1h-1zM360 149h1v1h-1zM365 149h1v1h-1zM370 149h1v1h-1zM375 149h1v1h-1zM380 149h1v1h-1zM385 149h1v1h-1zM390 149h1v1h-1zM395 149h1v1h-1zM400 149h1v1h-1zM405 149h1v1h-1zM410 149h1v1h-1zM415 149h1v1h-1zM420 149h1v1h-1zM425 149h1v1h-1zM430 149h1v1h-1zM435 149h1v1h-1zM440 149h1v1h-1zM445 149h1v1h-1zM450 149h1v1h-1zM455 149h1v1h-1zM460 149h1v1h-1zM465 149h1v1h-1zM470 149h1v1h-1zM475 149h1v1h-1zM480 149h1v1h-1zM485 149h1v1h-1zM490 149h1v1h-1zM495 149h1v1h-1zM500 149h1v1h-1zM505 149h1v1h-1zM510 149h1v1h-1zM515 149h1v1h-1zM520 149h1v1h-1zM525 149h1v1h-1zM530 149h1v1h-1zM535 149h1v1h-1zM540 149h1v1h-1zM545 149h1v1h-1zM550 149h1v1h-1zM555 149h1v1h-1zM560 149h1v1h-1zM565 149h1v1h-1zM570 149h1v1h-1zM575 149h1v1h-1zM580 149h1v1h-1zM585 149h1v1h-1zM590 149h1v1h-1zM595 149h1v1h-1zM600 149h1v1h-1zM605 149h1v1h-1zM610 149h1v1h-1zM615 149h1v1h-1zM620 149h1v1h-1zM625 149h1v1h-1zM630 149h1v1h-1zM635 149h1v1h-1zM640 149h1v1h-1zM645 149h1v1h-1zM650 149h1v1h-1zM655 149h1v1h-1zM660 149h1v1h-1zM665 149h1v1h-1zM670 149h1v1h-1zM675 149h1v1h-1zM680 149h1v1h-1zM685 149h1v1h-1zM690 149h1v1h-1zM695 149h1v1h-1zM700 149h1v1h-1zM705 149h1v1h-1zM710 149h1v1h-1zM715 149h1v1h-1zM720 149h1v1h-1zM725 149h1v1h-1zM730 149h1v1h-1zM735 149h1v1h-1zM740 149h1v1h-1zM745 149h1v1h-1zM750 149h1v1h-1zM755 149h1v1h-1zM760 149h1v1h-1zM765 149h1v1h-1zM770 149h1v1h-1zM775 149h1v1h-1zM780 149h1v1h-1zM785 149h1v1h-1zM790 149h1v1h-1zM795 149h1v1h-1zM800 149h1v1h-1zM805 149h1v1h-1zM810 149h1v1h-1zM815 149h1v1h-1zM820 149h1v1h-1zM825 149h1v1h-1zM830 149h1v1h-1zM835 149h1v1h-1zM840 149h1v1h-1zM845 149h1v1h-1zM850 149h1v1h-1zM855 149h1v1h-1zM860 149h1v1h-1zM865 149h1v1h-1zM870 149h1v1h-1zM875 149h1v1h-1zM880 149h1v1h-1zM885 149h1v1h-1zM890 149h1v1h-1zM895 149h1v1h-1zM900 149h1v1h-1zM905 149h1v1h-1zM910 149h1v1h-1zM915 149h1v1h-1zM920 149h1v1h-1zM925 149h1v1h-1zM930 149h1v1h-1zM935 149h1v1h-1zM940 149h1v1h-1zM945 149h1v1h-1zM950 149h1v1h-1zM955 149h1v1h-1zM960 149h1v1h-1zM965 149h1v1h-1zM970 149h1v1h-1zM975 149h1v1h-1zM980 149h1v1h-1zM985 149h1v1h-1zM990 149h1v1h-1zM995 149h1v1h-1zM1000 149h1v1h-1zM1005 149h1v1h-1zM1010 149h1v1h-1zM1015 149h1v1h-1zM1020 149h1v1h-1zM1025 149h1v1h-1zM1030 149h1v1h-1zM1035 149h1v1h-1zM1040 149h1v1h-1zM1045 149h1v1h-1zM1050 149h1v1h-1zM1055 149h1v1h-1zM1060 149h1v1h-1zM1065 149h1v1h-1zM1070 149h1v1h-1zM1075 149h1v1h-1zM1080 149h1v1h-1zM1085 149h1v1h-1zM272 68h1v10h-1zM272 792h1v11h-1zM388 68h1v10h-1zM388 792h1v11h-1zM504 68h1v10h-1zM504 792h1v11h-1zM621 68h1v10h-1zM621 792h1v11h-1zM737 68h1v10h-1zM737 792h1v11h-1zM853 68h1v10h-1zM853 792h1v11h-1zM969 68h1v10h-1zM969 792h1v11h-1zM156 720h10v1h-10zM1075 720h12v1h-12zM156 638h10v1h-10zM1075 638h12v1h-12zM156 557h10v1h-10zM1075 557h12v1h-12zM156 475h10v1h-10zM1075 475h12v1h-12zM156 394h10v1h-10zM1075 394h12v1h-12zM156 312h10v1h-10zM1075 312h12v1h-12zM156 231h10v1h-10zM1075 231h12v1h-12zM156 149h10v1h-10zM1075 149h12v1h-12z"/>
<path fill="#00f" d="M257 357h1V532h-1zM258 352h1V641h-1zM259 337h1V590h-1zM260 333h1V518h-1zM261 350h1V582h-1zM262 339h1V562h-1zM263 364h1V577h-1zM264 345h1V568h-1zM265 339h1V558h-1zM266 366h1V558h-1zM267 331h1V551h-1zM268 371h1V506h-1zM269 341h1V541h-1zM270 352h1V595h-1zM271 334h1V539h-1zM272 361h1V510h-1zM273 357h1V610h-1zM274 357h1V530h-1zM275 357h1V540h-1zM276 374h1V602h-1zM277 330h1V514h-1zM278 330h1V544h-1zM279 353h1V532h-1zM280 345h1V524h-1zM281 362h1V515h-1zM282 361h1V570h-1zM283 324h1V579h-1zM284 334h1V516h-1zM285 350h1V606h-1zM286 350h1V557h-1zM287 340h1V555h-1zM288 336h1V608h-1zM289 352h1V571h-1zM290 338h1V573h-1zM291 355h1V568h-1zM292 348h1V638h-1zM293 353h1V521h-1zM294 327h1V550h-1zM295 329h1V505h-1zM296 353h1V517h-1zM297 342h1V582h-1zM298 354h1V607h-1zM299 348h1V562h-1zM300 349h1V580h-1zM301 329h1V552h-1zM302 342h1V542h-1zM303 342h1V634h-1zM304 327h1V634h-1zM305 340h1V513h-1zM306 308h1V552h-1zM307 340h1V584h-1zM308 361h1V579h-1zM309 358h1V518h-1zM310 348h1V535h-1zM311 337h1V533h-1zM312 349h1V510h-1zM313 344h1V549h-1zM314 343h1V524h-1zM315 327h1V543h-1zM316 326h1V546h-1zM317 340h1V510h-1zM318 364h1V583h-1zM319 351h1V569h-1zM320 335h1V587h-1zM321 340h1V676h-1zM322 349h1V526h-1zM323 325h1V536h-1zM324 330h1V541h-1zM325 331h1V519h-1zM326 341h1V515h-1zM327 357h1V563h-1zM328 364h1V548h-1zM329 348h1V574h-1zM330 345h1V589h-1zM331 330h1V564h-1zM332 341h1V512h-1zM333 335h1V525h-1zM334 339h1V555h-1zM335 350h1V522h-1zM336 326h1V575h-1zM337 329h1V575h-1zM338 342h1V559h-1zM339 323h1V645h-1zM340 347h1V527h-1zM341 354h1V579h-1zM342 326h1V512h-1zM343 356h1V524h-1zM344 337h1V564h-1zM345 342h1V579h-1zM346 332h1V522h-1zM347 322h1V520h-1zM348 334h1V523h-1zM349 349h1V559h-1zM350 331h1V499h-1zM351 340h1V568h-1zM352 335h1V526h-1zM353 341h1V508h-1zM354 326h1V566h-1zM355 335h1V659h-1zM356 331h1V636h-1zM357 351h1V494h-1zM358 332h1V562h-1zM359 341h1V508h-1zM360 333h1V588h-1zM361 350h1V582h-1zM362 325h1V525h-1zM363 331h1V512h-1zM364 318h1V611h-1zM365 338h1V503h-1zM366 341h1V570h-1zM367 333h1V535h-1zM368 329h1V557h-1zM369 357h1V549h-1zM370 316h1V567h-1zM371 326h1V548h-1zM372 336h1V512h-1zM373 332h1V570h-1zM374 329h1V529h-1zM375 322h1V545h-1zM376 344h1V541h-1zM377 344h1V542h-1zM378 321h1V507h-1zM379 316h1V541h-1zM380 330h1V602h-1zM381 366h1V619h-1zM382 328h1V518h-1zM383 326h1V595h-1zM384 341h1V524h-1zM385 334h1V589h-1zM386 328h1V516h-1zM387 307h1V516h-1zM388 325h1V580h-1zM389 320h1V473h-1zM390 330h1V527h-1zM391 311h1V520h-1zM392 338h1V551h-1zM393 329h1V507h-1zM394 335h1V574h-1zM395 331h1V557h-1zM396 319h1V511h-1zM397 324h1V569h-1zM398 314h1V506h-1zM399 334h1V484h-1zM400 320h1V536h-1zM401 330h1V634h-1zM402 331h1V570h-1zM403 315h1V554h-1zM404 327h1V545h-1zM405 315h1V573h-1zM406 317h1V522h-1zM407 309h1V526h-1zM408 353h1V582h-1zM409 303h1V541h-1zM410 328h1V484h-1zM411 326h1V498h-1zM412 327h1V546h-1zM413 324h1V561h-1zM414 323h1V539h-1zM415 311h1V520h-1zM416 333h1V487h-1zM417 307h1V552h-1zM418 339h1V602h-1zM419 329h1V467h-1zM420 330h1V515h-1zM421 314h1V572h-1zM422 334h1V502h-1zM423 302h1V479h-1zM424 330h1V524h-1zM425 314h1V515h-1zM426 307h1V546h-1zM427 324h1V509h-1zM428 330h1V507h-1zM429 307h1V550h-1zM430 335h1V559h-1zM431 301h1V524h-1zM432 303h1V533h-1zM433 328h1V551h-1zM434 325h1V467h-1zM435 308h1V511h-1zM436 309h1V537h-1zM437 304h1V510h-1zM438 331h1V612h-1zM439 308h1V573h-1zM440 309h1V532h-1zM441 305h1V538h-1zM442 298h1V576h-1zM443 344h1V518h-1zM444 338h1V504h-1zM445 317h1V547h-1zM446 332h1V522h-1zM447 300h1V510h-1zM448 330h1V476h-1zM449 320h1V493h-1zM450 312h1V546h-1zM451 343h1V541h-1zM452 297h1V526h-1zM453 303h1V537h-1zM454 318h1V506h-1zM455 332h1V450h-1zM456 323h1V493h-1zM457 305h1V553h-1zM458 317h1V571h-1zM459 298h1V515h-1zM460 326h1V558h-1zM461 314h1V587h-1zM462 309h1V497h-1zM463 301h1V493h-1zM464 313h1V549h-1zM465 308h1V527h-1zM466 317h1V569h-1zM467 309h1V513h-1zM468 293h1V520h-1zM469 327h1V548h-1zM470 312h1V523h-1zM471 293h1V519h-1zM472 289h1V530h-1zM473 317h1V527h-1zM474 292h1V589h-1zM475 318h1V521h-1zM476 292h1V570h-1zM477 322h1V516h-1zM478 297h1V519h-1zM479 311h1V534h-1zM480 308h1V541h-1zM481 302h1V588h-1zM482 327h1V572h-1zM483 324h1V522h-1zM484 301h1V557h-1zM485 300h1V545h-1zM486 290h1V483h-1zM487 310h1V597h-1zM488 323h1V557h-1zM489 306h1V526h-1zM490 290h1V539h-1zM491 332h1V571h-1zM492 328h1V647h-1zM493 306h1V564h-1zM494 297h1V514h-1zM495 293h1V499h-1zM496 327h1V639h-1zM497 304h1V486h-1zM498 316h1V540h-1zM499 294h1V568h-1zM500 294h1V563h-1zM501 307h1V470h-1zM502 305h1V550h-1zM503 296h1V495h-1zM504 309h1V499h-1zM505 316h1V481h-1zM506 303h1V632h-1zM507 319h1V496h-1zM508 296h1V514h-1zM509 324h1V550h-1zM510 293h1V510h-1zM511 316h1V485h-1zM512 314h1V555h-1zM513 296h1V560h-1zM514 290h1V567h-1zM515 295h1V529h-1zM516 297h1V524h-1zM517 266h1V537h-1zM518 302h1V521h-1zM519 304h1V553h-1zM520 315h1V501h-1zM521 286h1V498h-1zM522 286h1V481h-1zM523 311h1V535h-1zM524 313h1V523h-1zM525 306h1V516h-1zM526 283h1V542h-1zM527 303h1V500h-1zM528 291h1V493h-1zM529 292h1V543h-1zM530 300h1V534h-1zM531 278h1V589h-1zM532 317h1V513h-1zM533 293h1V537h-1zM534 304h1V542h-1zM535 294h1V455h-1zM536 306h1V527h-1zM537 316h1V503h-1zM538 278h1V538h-1zM539 278h1V585h-1zM540 293h1V484h-1zM541 281h1V487h-1zM542 281h1V489h-1zM543 282h1V451h-1zM544 307h1V510h-1zM545 298h1V560h-1zM546 296h1V508h-1zM547 292h1V601h-1zM548 282h1V453h-1zM549 291h1V492h-1zM550 302h1V477h-1zM551 280h1V519h-1zM552 314h1V484h-1zM553 297h1V558h-1zM554 316h1V538h-1zM555 305h1V512h-1zM556 296h1V578h-1zM557 285h1V474h-1zM558 279h1V571h-1zM559 308h1V509h-1zM560 306h1V521h-1zM561 280h1V512h-1zM562 281h1V530h-1zM563 324h1V551h-1zM564 306h1V466h-1zM565 306h1V519h-1zM566 285h1V516h-1zM567 305h1V459h-1zM568 309h1V489h-1zM569 271h1V530h-1zM570 306h1V503h-1zM571 333h1V543h-1zM572 278h1V665h-1zM573 290h1V560h-1zM574 298h1V527h-1zM575 278h1V504h-1zM576 296h1V488h-1zM577 293h1V586h-1zM578 303h1V507h-1zM579 296h1V560h-1zM580 290h1V539h-1zM581 309h1V512h-1zM582 291h1V483h-1zM583 272h1V522h-1zM584 302h1V498h-1zM585 294h1V498h-1zM586 310h1V553h-1zM587 287h1V471h-1zM588 287h1V533h-1zM589 298h1V586h-1zM590 316h1V567h-1zM591 289h1V484h-1zM592 280h1V528h-1zM593 277h1V576h-1zM594 275h1V486h-1zM595 296h1V469h-1zM596 302h1V598h-1zM597 293h1V534h-1zM598 282h1V489h-1zM599 285h1V545h-1zM600 272h1V526h-1zM601 300h1V489h-1zM602 293h1V475h-1zM603 296h1V461h-1zM604 303h1V478h-1zM605 295h1V455h-1zM606 276h1V487h-1zM607 287h1V491h-1zM608 314h1V536h-1zM609 309h1V485h-1zM610 282h1V541h-1zM611 305h1V466h-1zM612 303h1V473h-1zM613 277h1V481h-1zM614 332h1V524h-1zM615 306h1V467h-1zM616 300h1V575h-1zM617 311h1V483h-1zM618 294h1V507h-1zM619 302h1V563h-1zM620 91h1V504h-1zM621 75h1V504h-1zM622 302h1V563h-1zM623 294h1V507h-1zM624 311h1V483h-1zM625 300h1V575h-1zM626 306h1V467h-1zM627 332h1V524h-1zM628 277h1V481h-1zM629 303h1V473h-1zM630 305h1V466h-1zM631 282h1V541h-1zM632 309h1V485h-1zM633 314h1V536h-1zM634 287h1V491h-1zM635 276h1V487h-1zM636 295h1V455h-1zM637 303h1V478h-1zM638 296h1V461h-1zM639 293h1V475h-1zM640 300h1V489h-1zM641 272h1V526h-1zM642 285h1V545h-1zM643 282h1V489h-1zM644 293h1V534h-1zM645 302h1V598h-1zM646 296h1V469h-1zM647 275h1V486h-1zM648 277h1V576h-1zM649 280h1V528h-1zM650 289h1V484h-1zM651 316h1V567h-1zM652 298h1V586h-1zM653 287h1V533h-1zM654 287h1V471h-1zM655 310h1V553h-1zM656 294h1V498h-1zM657 302h1V498h-1zM658 272h1V522h-1zM659 291h1V483h-1zM660 309h1V512h-1zM661 290h1V539h-1zM662 296h1V560h-1zM663 303h1V507h-1zM664 293h1V586h-1zM665 296h1V488h-1zM666 278h1V504h-1zM667 298h1V527h-1zM668 290h1V560h-1zM669 278h1V665h-1zM670 333h1V543h-1zM671 306h1V503h-1zM672 271h1V530h-1zM673 309h1V489h-1zM674 305h1V459h-1zM675 285h1V516h-1zM676 306h1V519h-1zM677 306h1V466h-1zM678 324h1V551h-1zM679 281h1V530h-1zM680 280h1V512h-1zM681 306h1V521h-1zM682 308h1V509h-1zM683 279h1V571h-1zM684 285h1V474h-1zM685 296h1V578h-1zM686 305h1V512h-1zM687 316h1V538h-1zM688 297h1V558h-1zM689 314h1V484h-1zM690 280h1V519h-1zM691 302h1V477h-1zM692 291h1V492h-1zM693 282h1V453h-1zM694 292h1V601h-1zM695 296h1V508h-1zM696 298h1V560h-1zM697 307h1V510h-1zM698 282h1V451h-1zM699 281h1V489h-1zM700 281h1V487h-1zM701 293h1V484h-1zM702 278h1V585h-1zM703 278h1V538h-1zM704 316h1V503h-1zM705 306h1V527h-1zM706 294h1V455h-1zM707 304h1V542h-1zM708 293h1V537h-1zM709 317h1V513h-1zM710 278h1V589h-1zM711 300h1V534h-1zM712 292h1V543h-1zM713 291h1V493h-1zM714 303h1V500h-1zM715 283h1V542h-1zM716 306h1V516h-1zM717 313h1V523h-1zM718 311h1V535h-1zM719 286h1V481h-1zM720 286h1V498h-1zM721 315h1V501h-1zM722 304h1V553h-1zM723 302h1V521h-1zM724 266h1V537h-1zM725 297h1V524h-1zM726 295h1V529h-1zM727 290h1V567h-1zM728 296h1V560h-1zM729 314h1V555h-1zM730 316h1V485h-1zM731 293h1V510h-1zM732 324h1V550h-1zM733 296h1V514h-1zM734 319h1V496h-1zM735 303h1V632h-1zM736 316h1V481h-1zM737 309h1V499h-1zM738 296h1V495h-1zM739 305h1V550h-1zM740 307h1V470h-1zM741 294h1V563h-1zM742 294h1V568h-1zM743 316h1V540h-1zM744 304h1V486h-1zM745 327h1V639h-1zM746 293h1V499h-1zM747 297h1V514h-1zM748 306h1V564h-1zM749 328h1V647h-1zM750 332h1V571h-1zM751 290h1V539h-1zM752 306h1V526h-1zM753 323h1V557h-1zM754 310h1V597h-1zM755 290h1V483h-1zM756 300h1V545h-1zM757 301h1V557h-1zM758 324h1V522h-1zM759 327h1V572h-1zM760 302h1V588h-1zM761 308h1V541h-1zM762 311h1V534h-1zM763 297h1V519h-1zM764 322h1V516h-1zM765 292h1V570h-1zM766 318h1V521h-1zM767 292h1V589h-1zM768 317h1V527h-1zM769 289h1V530h-1zM770 293h1V519h-1zM771 312h1V523h-1zM772 327h1V548h-1zM773 293h1V520h-1zM774 309h1V513h-1zM775 317h1V569h-1zM776 308h1V527h-1zM777 313h1V549h-1zM778 301h1V493h-1zM779 309h1V497h-1zM780 314h1V587h-1zM781 326h1V558h-1zM782 298h1V515h-1zM783 317h1V571h-1zM784 305h1V553h-1zM785 323h1V493h-1zM786 332h1V450h-1zM787 318h1V506h-1zM788 303h1V537h-1zM789 297h1V526h-1zM790 343h1V541h-1zM791 312h1V546h-1zM792 320h1V493h-1zM793 330h1V476h-1zM794 300h1V510h-1zM795 332h1V522h-1zM796 317h1V547h-1zM797 338h1V504h-1zM798 344h1V518h-1zM799 298h1V576h-1zM800 305h1V538h-1zM801 309h1V532h-1zM802 308h1V573h-1zM803 331h1V612h-1zM804 304h1V510h-1zM805 309h1V537h-1zM806 308h1V511h-1zM807 325h1V467h-1zM808 328h1V551h-1zM809 303h1V533h-1zM810 301h1V524h-1zM811 335h1V559h-1zM812 307h1V550h-1zM813 330h1V507h-1zM814 324h1V509h-1zM815 307h1V546h-1zM816 314h1V515h-1zM817 330h1V524h-1zM818 302h1V479h-1zM819 334h1V502h-1zM820 314h1V572h-1zM821 330h1V515h-1zM822 329h1V467h-1zM823 339h1V602h-1zM824 307h1V552h-1zM825 333h1V487h-1zM826 311h1V520h-1zM827 323h1V539h-1zM828 324h1V561h-1zM829 327h1V546h-1zM830 326h1V498h-1zM831 328h1V484h-1zM832 303h1V541h-1zM833 353h1V582h-1zM834 309h1V526h-1zM835 317h1V522h-1zM836 315h1V573h-1zM837 327h1V545h-1zM838 315h1V554h-1zM839 331h1V570h-1zM840 330h1V634h-1zM841 320h1V536h-1zM842 334h1V484h-1zM843 314h1V506h-1zM844 324h1V569h-1zM845 319h1V511h-1zM846 331h1V557h-1zM847 335h1V574h-1zM848 329h1V507h-1zM849 338h1V551h-1zM850 311h1V520h-1zM851 330h1V527h-1zM852 320h1V473h-1zM853 325h1V580h-1zM854 307h1V516h-1zM855 328h1V516h-1zM856 334h1V589h-1zM857 341h1V524h-1zM858 326h1V595h-1zM859 328h1V518h-1zM860 366h1V619h-1zM861 330h1V602h-1zM862 316h1V541h-1zM863 321h1V507h-1zM864 344h1V542h-1zM865 344h1V541h-1zM866 322h1V545h-1zM867 329h1V529h-1zM868 332h1V570h-1zM869 336h1V512h-1zM870 326h1V548h-1zM871 316h1V567h-1zM872 357h1V549h-1zM873 329h1V557h-1zM874 333h1V535h-1zM875 341h1V570h-1zM876 338h1V503h-1zM877 318h1V611h-1zM878 331h1V512h-1zM879 325h1V525h-1zM880 350h1V582h-1zM881 333h1V588h-1zM882 341h1V508h-1zM883 332h1V562h-1zM884 351h1V494h-1zM885 331h1V636h-1zM886 335h1V659h-1zM887 326h1V566h-1zM888 341h1V508h-1zM889 335h1V526h-1zM890 340h1V568h-1zM891 331h1V499h-1zM892 349h1V559h-1zM893 334h1V523h-1zM894 322h1V520h-1zM895 332h1V522h-1zM896 342h1V579h-1zM897 337h1V564h-1zM898 356h1V524h-1zM899 326h1V512h-1zM900 354h1V579h-1zM901 347h1V527h-1zM902 323h1V645h-1zM903 342h1V559h-1zM904 329h1V575h-1zM905 326h1V575h-1zM906 350h1V522h-1zM907 339h1V555h-1zM908 335h1V525h-1zM909 341h1V512h-1zM910 330h1V564h-1zM911 345h1V589h-1zM912 348h1V574h-1zM913 364h1V548h-1zM914 357h1V563h-1zM915 341h1V515h-1zM916 331h1V519h-1zM917 330h1V541h-1zM918 325h1V536h-1zM919 349h1V526h-1zM920 340h1V676h-1zM921 335h1V587h-1zM922 351h1V569h-1zM923 364h1V583h-1zM924 340h1V510h-1zM925 326h1V546h-1zM926 327h1V543h-1zM927 343h1V524h-1zM928 344h1V549h-1zM929 349h1V510h-1zM930 337h1V533h-1zM931 348h1V535h-1zM932 358h1V518h-1zM933 361h1V579h-1zM934 340h1V584h-1zM935 308h1V552h-1zM936 340h1V513h-1zM937 327h1V634h-1zM938 342h1V634h-1zM939 342h1V542h-1zM940 329h1V552h-1zM941 349h1V580h-1zM942 348h1V562h-1zM943 354h1V607h-1zM944 342h1V582h-1zM945 353h1V517h-1zM946 329h1V505h-1zM947 327h1V550h-1zM948 353h1V521h-1zM949 348h1V638h-1zM950 355h1V568h-1zM951 338h1V573h-1zM952 352h1V571h-1zM953 336h1V608h-1zM954 340h1V555h-1zM955 350h1V557h-1zM956 350h1V606h-1zM957 334h1V516h-1zM958 324h1V579h-1zM959 361h1V570h-1zM960 362h1V515h-1zM961 345h1V524h-1zM962 353h1V532h-1zM963 330h1V544h-1zM964 330h1V514h-1zM965 374h1V602h-1zM966 357h1V540h-1zM967 357h1V530h-1zM968 357h1V610h-1zM969 361h1V510h-1zM970 334h1V539h-1zM971 352h1V595h-1zM972 341h1V541h-1zM973 371h1V506h-1zM974 331h1V551h-1zM975 366h1V558h-1zM976 339h1V558h-1zM977 345h1V568h-1zM978 364h1V577h-1zM979 339h1V562h-1zM980 350h1V582h-1zM981 333h1V518h-1zM982 337h1V590h-1zM983 352h1V641h-1zM984 357h1V532h-1z"/>
<path fill="#f00" d="M257 353h1V685h-1zM258 365h1V576h-1zM259 361h1V536h-1zM260 378h1V571h-1zM261 370h1V569h-1zM262 356h1V561h-1zM263 366h1V571h-1zM264 384h1V544h-1zM265 355h1V636h-1zM266 353h1V539h-1zM267 373h1V566h-1zM268 364h1V632h-1zM269 366h1V539h-1zM270 358h1V524h-1zM271 345h1V520h-1zM272 357h1V585h-1zM273 362h1V502h-1zM274 368h1V534h-1zM275 363h1V555h-1zM276 384h1V583h-1zM277 366h1V571h-1zM278 371h1V577h-1zM279 371h1V599h-1zM280 352h1V485h-1zM281 373h1V500h-1zM282 370h1V514h-1zM283 366h1V520h-1zM284 376h1V529h-1zM285 357h1V481h-1zM286 370h1V545h-1zM287 361h1V549h-1zM288 355h1V520h-1zM289 361h1V608h-1zM290 333h1V527h-1zM291 362h1V576h-1zM292 372h1V579h-1zM293 395h1V573h-1zM294 362h1V538h-1zM295 365h1V524h-1zM296 352h1V626h-1zM297 358h1V494h-1zM298 359h1V560h-1zM299 367h1V576h-1zM300 358h1V547h-1zM301 370h1V604h-1zM302 387h1V509h-1zM303 359h1V583h-1zM304 353h1V559h-1zM305 365h1V554h-1zM306 382h1V552h-1zM307 367h1V664h-1zM308 366h1V583h-1zM309 383h1V518h-1zM310 359h1V554h-1zM311 375h1V570h-1zM312 372h1V641h-1zM313 365h1V561h-1zM314 371h1V537h-1zM315 356h1V575h-1zM316 345h1V532h-1zM317 375h1V655h-1zM318 391h1V529h-1zM319 371h1V594h-1zM320 362h1V525h-1zM321 361h1V539h-1zM322 350h1V542h-1zM323 366h1V542h-1zM324 346h1V564h-1zM325 391h1V515h-1zM326 353h1V555h-1zM327 359h1V664h-1zM328 365h1V516h-1zM329 349h1V545h-1zM330 377h1V513h-1zM331 356h1V570h-1zM332 363h1V530h-1zM333 359h1V604h-1zM334 362h1V607h-1zM335 363h1V527h-1zM336 386h1V534h-1zM337 382h1V567h-1zM338 356h1V524h-1zM339 368h1V609h-1zM340 363h1V596h-1zM341 372h1V520h-1zM342 372h1V561h-1zM343 352h1V540h-1zM344 373h1V638h-1zM345 363h1V524h-1zM346 368h1V552h-1zM347 372h1V551h-1zM348 376h1V524h-1zM349 362h1V542h-1zM350 354h1V539h-1zM351 370h1V590h-1zM352 374h1V593h-1zM353 363h1V524h-1zM354 367h1V649h-1zM355 365h1V553h-1zM356 387h1V553h-1zM357 369h1V545h-1zM358 368h1V588h-1zM359 347h1V514h-1zM360 366h1V613h-1zM361 368h1V585h-1zM362 372h1V563h-1zM363 351h1V567h-1zM364 373h1V530h-1zM365 377h1V631h-1zM366 372h1V537h-1zM367 377h1V568h-1zM368 373h1V575h-1zM369 356h1V507h-1zM370 360h1V506h-1zM371 376h1V525h-1zM372 356h1V598h-1zM373 356h1V746h-1zM374 379h1V530h-1zM375 361h1V588h-1zM376 375h1V633h-1zM377 363h1V561h-1zM378 382h1V606h-1zM379 364h1V655h-1zM380 367h1V515h-1zM381 359h1V590h-1zM382 377h1V599h-1zM383 367h1V584h-1zM384 358h1V559h-1zM385 369h1V568h-1zM386 374h1V647h-1zM387 368h1V564h-1zM388 382h1V601h-1zM389 368h1V570h-1zM390 385h1V561h-1zM391 359h1V608h-1zM392 387h1V586h-1zM393 356h1V537h-1zM394 375h1V519h-1zM395 367h1V532h-1zM396 380h1V565h-1zM397 365h1V585h-1zM398 374h1V586h-1zM399 364h1V525h-1zM400 362h1V569h-1zM401 375h1V562h-1zM402 380h1V614h-1zM403 364h1V554h-1zM404 383h1V544h-1zM405 378h1V557h-1zM406 375h1V535h-1zM407 367h1V581h-1zM408 357h1V616h-1zM409 385h1V619h-1zM410 379h1V581h-1zM411 372h1V611h-1zM412 351h1V610h-1zM413 378h1V527h-1zM414 358h1V598h-1zM415 376h1V586h-1zM416 373h1V587h-1zM417 374h1V570h-1zM418 364h1V519h-1zM419 366h1V572h-1zM420 353h1V559h-1zM421 374h1V528h-1zM422 368h1V745h-1zM423 375h1V534h-1zM424 357h1V587h-1zM425 373h1V654h-1zM426 378h1V549h-1zM427 374h1V528h-1zM428 367h1V627h-1zM429 354h1V546h-1zM430 374h1V525h-1zM431 383h1V524h-1zM432 375h1V546h-1zM433 366h1V556h-1zM434 372h1V565h-1zM435 374h1V548h-1zM436 369h1V584h-1zM437 357h1V543h-1zM438 362h1V605h-1zM439 379h1V575h-1zM440 368h1V525h-1zM441 378h1V522h-1zM442 355h1V532h-1zM443 368h1V694h-1zM444 365h1V618h-1zM445 374h1V565h-1zM446 380h1V559h-1zM447 376h1V678h-1zM448 373h1V538h-1zM449 377h1V682h-1zM450 372h1V556h-1zM451 369h1V521h-1zM452 358h1V528h-1zM453 366h1V535h-1zM454 391h1V578h-1zM455 366h1V527h-1zM456 365h1V549h-1zM457 375h1V569h-1zM458 379h1V596h-1zM459 362h1V576h-1zM460 392h1V675h-1zM461 386h1V583h-1zM462 368h1V552h-1zM463 351h1V590h-1zM464 389h1V575h-1zM465 380h1V553h-1zM466 394h1V529h-1zM467 378h1V494h-1zM468 368h1V544h-1zM469 386h1V554h-1zM470 381h1V544h-1zM471 361h1V604h-1zM472 360h1V572h-1zM473 369h1V520h-1zM474 381h1V541h-1zM475 351h1V567h-1zM476 373h1V532h-1zM477 363h1V582h-1zM478 387h1V694h-1zM479 371h1V774h-1zM480 377h1V588h-1zM481 389h1V629h-1zM482 373h1V516h-1zM483 364h1V573h-1zM484 363h1V632h-1zM485 360h1V516h-1zM486 351h1V537h-1zM487 383h1V546h-1zM488 366h1V558h-1zM489 365h1V572h-1zM490 374h1V560h-1zM491 384h1V509h-1zM492 379h1V549h-1zM493 370h1V619h-1zM494 379h1V536h-1zM495 351h1V525h-1zM496 376h1V564h-1zM497 381h1V546h-1zM498 374h1V592h-1zM499 375h1V544h-1zM500 361h1V555h-1zM501 362h1V561h-1zM502 362h1V511h-1zM503 366h1V599h-1zM504 367h1V515h-1zM505 367h1V522h-1zM506 362h1V586h-1zM507 382h1V533h-1zM508 382h1V623h-1zM509 367h1V700h-1zM510 365h1V573h-1zM511 369h1V556h-1zM512 366h1V552h-1zM513 385h1V650h-1zM514 377h1V635h-1zM515 374h1V599h-1zM516 376h1V573h-1zM517 373h1V517h-1zM518 367h1V559h-1zM519 370h1V556h-1zM520 372h1V658h-1zM521 374h1V569h-1zM522 373h1V520h-1zM523 384h1V611h-1zM524 372h1V563h-1zM525 361h1V512h-1zM526 386h1V654h-1zM527 395h1V578h-1zM528 377h1V533h-1zM529 377h1V655h-1zM530 388h1V532h-1zM531 384h1V594h-1zM532 374h1V494h-1zM533 360h1V485h-1zM534 377h1V588h-1zM535 369h1V561h-1zM536 388h1V542h-1zM537 358h1V566h-1zM538 350h1V563h-1zM539 367h1V603h-1zM540 355h1V588h-1zM541 361h1V544h-1zM542 362h1V551h-1zM543 384h1V570h-1zM544 376h1V560h-1zM545 370h1V582h-1zM546 376h1V538h-1zM547 359h1V567h-1zM548 381h1V575h-1zM549 372h1V563h-1zM550 376h1V561h-1zM551 395h1V553h-1zM552 364h1V503h-1zM553 384h1V539h-1zM554 377h1V622h-1zM555 388h1V628h-1zM556 380h1V614h-1zM557 350h1V517h-1zM558 379h1V575h-1zM559 369h1V655h-1zM560 385h1V607h-1zM561 370h1V523h-1zM562 381h1V498h-1zM563 379h1V576h-1zM564 361h1V602h-1zM565 377h1V590h-1zM566 366h1V607h-1zM567 369h1V622h-1zM568 381h1V682h-1zM569 379h1V553h-1zM570 366h1V544h-1zM571 368h1V555h-1zM572 367h1V505h-1zM573 375h1V721h-1zM574 399h1V616h-1zM575 376h1V596h-1zM576 360h1V612h-1zM577 378h1V625h-1zM578 376h1V617h-1zM579 353h1V557h-1zM580 380h1V536h-1zM581 374h1V522h-1zM582 366h1V532h-1zM583 372h1V519h-1zM584 372h1V548h-1zM585 365h1V552h-1zM586 367h1V623h-1zM587 380h1V555h-1zM588 365h1V627h-1zM589 381h1V521h-1zM590 361h1V614h-1zM591 362h1V551h-1zM592 384h1V667h-1zM593 364h1V543h-1zM594 368h1V548h-1zM595 373h1V610h-1zM596 356h1V581h-1zM597 359h1V528h-1zM598 379h1V517h-1zM599 371h1V538h-1zM600 391h1V609h-1zM601 372h1V582h-1zM602 361h1V553h-1zM603 350h1V559h-1zM604 353h1V616h-1zM605 366h1V546h-1zM606 364h1V552h-1zM607 376h1V673h-1zM608 374h1V585h-1zM609 357h1V588h-1zM610 385h1V538h-1zM611 380h1V561h-1zM612 370h1V698h-1zM613 354h1V586h-1zM614 366h1V579h-1zM615 350h1V538h-1zM616 364h1V518h-1zM617 375h1V613h-1zM618 377h1V571h-1zM619 361h1V518h-1zM620 314h1V582h-1zM621 298h1V582h-1zM622 361h1V518h-1zM623 377h1V571h-1zM624 375h1V613h-1zM625 364h1V518h-1zM626 350h1V538h-1zM627 366h1V579h-1zM628 354h1V586h-1zM629 370h1V698h-1zM630 380h1V561h-1zM631 385h1V538h-1zM632 357h1V588h-1zM633 374h1V585h-1zM634 376h1V673h-1zM635 364h1V552h-1zM636 366h1V546h-1zM637 353h1V616h-1zM638 350h1V559h-1zM639 361h1V553h-1zM640 372h1V582h-1zM641 391h1V609h-1zM642 371h1V538h-1zM643 379h1V517h-1zM644 359h1V528h-1zM645 356h1V581h-1zM646 373h1V610h-1zM647 368h1V548h-1zM648 364h1V543h-1zM649 384h1V667h-1zM650 362h1V551h-1zM651 361h1V614h-1zM652 381h1V521h-1zM653 365h1V627h-1zM654 380h1V555h-1zM655 367h1V623h-1zM656 365h1V552h-1zM657 372h1V548h-1zM658 372h1V519h-1zM659 366h1V532h-1zM660 374h1V522h-1zM661 380h1V536h-1zM662 353h1V557h-1zM663 376h1V617h-1zM664 378h1V625h-1zM665 360h1V612h-1zM666 376h1V596h-1zM667 399h1V616h-1zM668 375h1V721h-1zM669 367h1V505h-1zM670 368h1V555h-1zM671 366h1V544h-1zM672 379h1V553h-1zM673 381h1V682h-1zM674 369h1V622h-1zM675 366h1V607h-1zM676 377h1V590h-1zM677 361h1V602h-1zM678 379h1V576h-1zM679 381h1V498h-1zM680 370h1V523h-1zM681 385h1V607h-1zM682 369h1V655h-1zM683 379h1V575h-1zM684 350h1V517h-1zM685 380h1V614h-1zM686 388h1V628h-1zM687 377h1V622h-1zM688 384h1V539h-1zM689 364h1V503h-1zM690 395h1V553h-1zM691 376h1V561h-1zM692 372h1V563h-1zM693 381h1V575h-1zM694 359h1V567h-1zM695 376h1V538h-1zM696 370h1V582h-1zM697 376h1V560h-1zM698 384h1V570h-1zM699 362h1V551h-1zM700 361h1V544h-1zM701 355h1V588h-1zM702 367h1V603h-1zM703 350h1V563h-1zM704 358h1V566h-1zM705 388h1V542h-1zM706 369h1V561h-1zM707 377h1V588h-1zM708 360h1V485h-1zM709 374h1V494h-1zM710 384h1V594h-1zM711 388h1V532h-1zM712 377h1V655h-1zM713 377h1V533h-1zM714 395h1V578h-1zM715 386h1V654h-1zM716 361h1V512h-1zM717 372h1V563h-1zM718 384h1V611h-1zM719 373h1V520h-1zM720 374h1V569h-1zM721 372h1V658h-1zM722 370h1V556h-1zM723 367h1V559h-1zM724 373h1V517h-1zM725 376h1V573h-1zM726 374h1V599h-1zM727 377h1V635h-1zM728 385h1V650h-1zM729 366h1V552h-1zM730 369h1V556h-1zM731 365h1V573h-1zM732 367h1V700h-1zM733 382h1V623h-1zM734 382h1V533h-1zM735 362h1V586h-1zM736 367h1V522h-1zM737 367h1V515h-1zM738 366h1V599h-1zM739 362h1V511h-1zM740 362h1V561h-1zM741 361h1V555h-1zM742 375h1V544h-1zM743 374h1V592h-1zM744 381h1V546h-1zM745 376h1V564h-1zM746 351h1V525h-1zM747 379h1V536h-1zM748 370h1V619h-1zM749 379h1V549h-1zM750 384h1V509h-1zM751 374h1V560h-1zM752 365h1V572h-1zM753 366h1V558h-1zM754 383h1V546h-1zM755 351h1V537h-1zM756 360h1V516h-1zM757 363h1V632h-1zM758 364h1V573h-1zM759 373h1V516h-1zM760 389h1V629h-1zM761 377h1V588h-1zM762 371h1V774h-1zM763 387h1V694h-1zM764 363h1V582h-1zM765 373h1V532h-1zM766 351h1V567h-1zM767 381h1V541h-1zM768 369h1V520h-1zM769 360h1V572h-1zM770 361h1V604h-1zM771 381h1V544h-1zM772 386h1V554h-1zM773 368h1V544h-1zM774 378h1V494h-1zM775 394h1V529h-1zM776 380h1V553h-1zM777 389h1V575h-1zM778 351h1V590h-1zM779 368h1V552h-1zM780 386h1V583h-1zM781 392h1V675h-1zM782 362h1V576h-1zM783 379h1V596h-1zM784 375h1V569h-1zM785 365h1V549h-1zM786 366h1V527h-1zM787 391h1V578h-1zM788 366h1V535h-1zM789 358h1V528h-1zM790 369h1V521h-1zM791 372h1V556h-1zM792 377h1V682h-1zM793 373h1V538h-1zM794 376h1V678h-1zM795 380h1V559h-1zM796 374h1V565h-1zM797 365h1V618h-1zM798 368h1V694h-1zM799 355h1V532h-1zM800 378h1V522h-1zM801 368h1V525h-1zM802 379h1V575h-1zM803 362h1V605h-1zM804 357h1V543h-1zM805 369h1V584h-1zM806 374h1V548h-1zM807 372h1V565h-1zM808 366h1V556h-1zM809 375h1V546h-1zM810 383h1V524h-1zM811 374h1V525h-1zM812 354h1V546h-1zM813 367h1V627h-1zM814 374h1V528h-1zM815 378h1V549h-1zM816 373h1V654h-1zM817 357h1V587h-1zM818 375h1V534h-1zM819 368h1V745h-1zM820 374h1V528h-1zM821 353h1V559h-1zM822 366h1V572h-1zM823 364h1V519h-1zM824 374h1V570h-1zM825 373h1V587h-1zM826 376h1V586h-1zM827 358h1V598h-1zM828 378h1V527h-1zM829 351h1V610h-1zM830 372h1V611h-1zM831 379h1V581h-1zM832 385h1V619h-1zM833 357h1V616h-1zM834 367h1V581h-1zM835 375h1V535h-1zM836 378h1V557h-1zM837 383h1V544h-1zM838 364h1V554h-1zM839 380h1V614h-1zM840 375h1V562h-1zM841 362h1V569h-1zM842 364h1V525h-1zM843 374h1V586h-1zM844 365h1V585h-1zM845 380h1V565h-1zM846 367h1V532h-1zM847 375h1V519h-1zM848 356h1V537h-1zM849 387h1V586h-1zM850 359h1V608h-1zM851 385h1V561h-1zM852 368h1V570h-1zM853 382h1V601h-1zM854 368h1V564h-1zM855 374h1V647h-1zM856 369h1V568h-1zM857 358h1V559h-1zM858 367h1V584h-1zM859 377h1V599h-1zM860 359h1V590h-1zM861 367h1V515h-1zM862 364h1V655h-1zM863 382h1V606h-1zM864 363h1V561h-1zM865 375h1V633h-1zM866 361h1V588h-1zM867 379h1V530h-1zM868 356h1V746h-1zM869 356h1V598h-1zM870 376h1V525h-1zM871 360h1V506h-1zM872 356h1V507h-1zM873 373h1V575h-1zM874 377h1V568h-1zM875 372h1V537h-1zM876 377h1V631h-1zM877 373h1V530h-1zM878 351h1V567h-1zM879 372h1V563h-1zM880 368h1V585h-1zM881 366h1V613h-1zM882 347h1V514h-1zM883 368h1V588h-1zM884 369h1V545h-1zM885 387h1V553h-1zM886 365h1V553h-1zM887 367h1V649h-1zM888 363h1V524h-1zM889 374h1V593h-1zM890 370h1V590h-1zM891 354h1V539h-1zM892 362h1V542h-1zM893 376h1V524h-1zM894 372h1V551h-1zM895 368h1V552h-1zM896 363h1V524h-1zM897 373h1V638h-1zM898 352h1V540h-1zM899 372h1V561h-1zM900 372h1V520h-1zM901 363h1V596h-1zM902 368h1V609h-1zM903 356h1V524h-1zM904 382h1V567h-1zM905 386h1V534h-1zM906 363h1V527h-1zM907 362h1V607h-1zM908 359h1V604h-1zM909 363h1V530h-1zM910 356h1V570h-1zM911 377h1V513h-1zM912 349h1V545h-1zM913 365h1V516h-1zM914 359h1V664h-1zM915 353h1V555h-1zM916 391h1V515h-1zM917 346h1V564h-1zM918 366h1V542h-1zM919 350h1V542h-1zM920 361h1V539h-1zM921 362h1V525h-1zM922 371h1V594h-1zM923 391h1V529h-1zM924 375h1V655h-1zM925 345h1V532h-1zM926 356h1V575h-1zM927 371h1V537h-1zM928 365h1V561h-1zM929 372h1V641h-1zM930 375h1V570h-1zM931 359h1V554h-1zM932 383h1V518h-1zM933 366h1V583h-1zM934 367h1V664h-1zM935 382h1V552h-1zM936 365h1V554h-1zM937 353h1V559h-1zM938 359h1V583h-1zM939 387h1V509h-1zM940 370h1V604h-1zM941 358h1V547h-1zM942 367h1V576h-1zM943 359h1V560h-1zM944 358h1V494h-1zM945 352h1V626h-1zM946 365h1V524h-1zM947 362h1V538h-1zM948 395h1V573h-1zM949 372h1V579h-1zM950 362h1V576h-1zM951 333h1V527h-1zM952 361h1V608h-1zM953 355h1V520h-1zM954 361h1V549h-1zM955 370h1V545h-1zM956 357h1V481h-1zM957 376h1V529h-1zM958 366h1V520h-1zM959 370h1V514h-1zM960 373h1V500h-1zM961 352h1V485h-1zM962 371h1V599h-1zM963 371h1V577h-1zM964 366h1V571h-1zM965 384h1V583h-1zM966 363h1V555h-1zM967 368h1V534h-1zM968 362h1V502h-1zM969 357h1V585h-1zM970 345h1V520h-1zM971 358h1V524h-1zM972 366h1V539h-1zM973 364h1V632h-1zM974 373h1V566h-1zM975 353h1V539h-1zM976 355h1V636h-1zM977 384h1V544h-1zM978 366h1V571h-1zM979 356h1V561h-1zM980 370h1V569h-1zM981 378h1V571h-1zM982 361h1V536h-1zM983 365h1V576h-1zM984 353h1V576h-1z"/>
<path fill="#000" d="M156 68h931v1h-931z M156 802h931v1h-931z M156 68h1v735h-1z M1086 68h1v735h-1z"/>
<g filter="url(#sh)"><text transform="translate(0 820) scale(0.83 1)" x="172.74 180.15 187.38">−80</text><text transform="translate(0 820) scale(0.83 1)" x="312.50 319.86 327.14">−60</text><text transform="translate(0 820) scale(0.83 1)" x="452.25 459.71 466.89">−40</text><text transform="translate(0 820) scale(0.83 1)" x="592.01 599.42 606.65">−20</text><text transform="translate(0 820) scale(0.83 1)" x="744.00">0</text><text transform="translate(0 820) scale(0.83 1)" x="880.15 887.38">20</text><text transform="translate(0 820) scale(0.83 1)" x="1019.95 1027.14">40</text><text transform="translate(0 820) scale(0.83 1)" x="1159.62 1166.89">60</text><text transform="translate(0 820) scale(0.83 1)" x="1300.63 1307.86">80</text><text transform="translate(0 807) scale(0.83 1)" x="165.65 172.92">60</text><text transform="translate(0 725) scale(0.83 1)" x="165.68 172.92">70</text><text transform="translate(0 643) scale(0.83 1)" x="165.69 172.92">80</text><text transform="translate(0 562) scale(0.83 1)" x="165.69 172.92">90</text><text transform="translate(0 480) scale(0.83 1)" x="158.28 165.69 172.92">100</text><text transform="translate(0 399) scale(0.83 1)" x="158.28 165.51 172.92">110</text><text transform="translate(0 317) scale(0.83 1)" x="158.28 165.69 172.92">120</text><text transform="translate(0 236) scale(0.83 1)" x="158.28 165.73 172.92">130</text><text transform="translate(0 154) scale(0.83 1)" x="158.28 165.73 172.92">140</text><text transform="translate(0 73) scale(0.83 1)" x="158.28 165.70 172.92">150</text><text y="839"><tspan x="602.43" textLength="4.48" lengthAdjust="spacingAndGlyphs">f</tspan><tspan x="608.71" textLength="3.58" lengthAdjust="spacingAndGlyphs">,</tspan> <tspan x="619.39" textLength="6.23" lengthAdjust="spacingAndGlyphs">M</tspan><tspan x="625.27" textLength="6.46" lengthAdjust="spacingAndGlyphs">H</tspan><tspan x="631.51" textLength="6.10" lengthAdjust="spacingAndGlyphs">z</tspan></text><text transform="translate(121 451) rotate(-90)" y="0"><tspan x="-0.39" textLength="5.79" lengthAdjust="spacingAndGlyphs">S</tspan><tspan x="6.71" textLength="3.58" lengthAdjust="spacingAndGlyphs">,</tspan> <tspan x="17.53" textLength="6.18" lengthAdjust="spacingAndGlyphs">d</tspan><tspan x="23.23" textLength="6.27" lengthAdjust="spacingAndGlyphs">B</tspan></text></g>
</svg>
</body></html>
